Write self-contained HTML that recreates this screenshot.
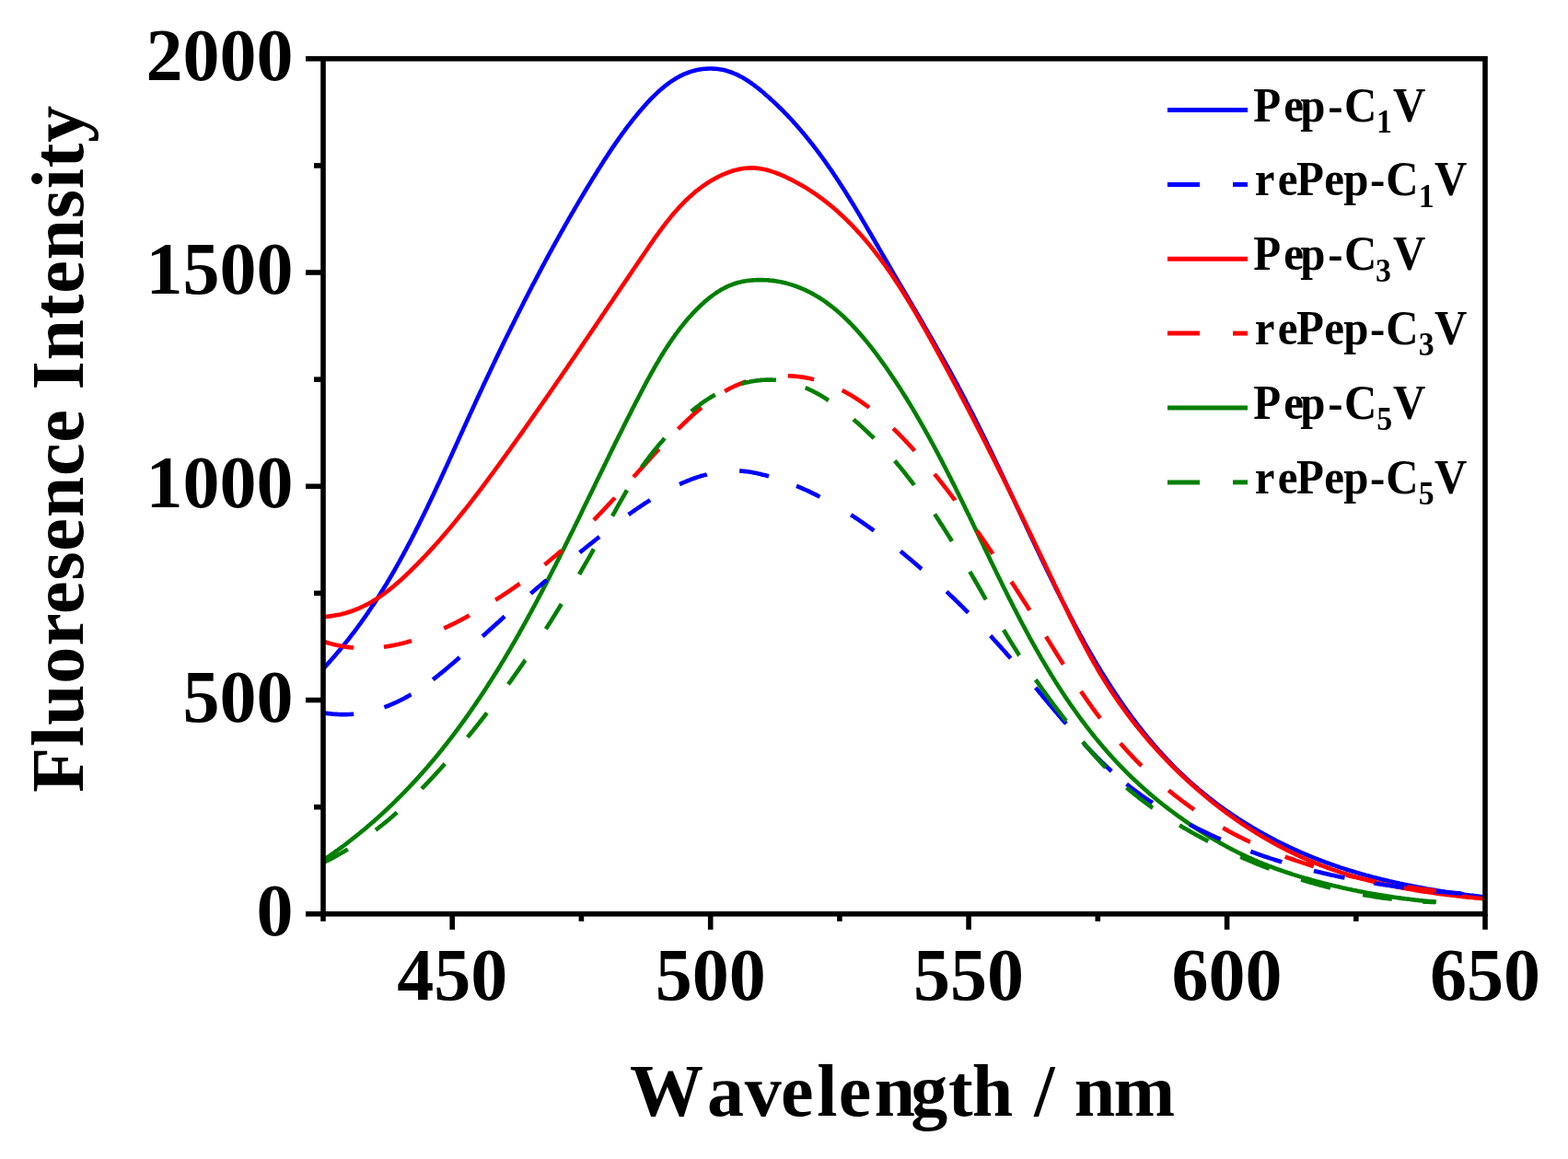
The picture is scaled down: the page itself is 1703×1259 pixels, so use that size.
<!DOCTYPE html>
<html><head><meta charset="utf-8"><title>Fluorescence spectra</title>
<style>
html,body{margin:0;padding:0;background:#fff;}
body{width:1703px;height:1259px;overflow:hidden;}
svg{display:block;}
.t{font-family:"Liberation Serif","Times New Roman",serif;font-weight:bold;font-size:80px;fill:#000;}
.lg{font-family:"Liberation Serif","Times New Roman",serif;font-weight:bold;font-size:49px;fill:#000;}
.sub{font-size:34px;}
.ti{font-family:"Liberation Serif","Times New Roman",serif;font-weight:bold;font-size:80px;fill:#000;}
</style></head>
<body>
<svg width="1703" height="1259" viewBox="0 0 1703 1259">
<rect width="1703" height="1259" fill="#fff"/>
<g>
<polyline points="351.0,726.6 354.7,722.5 355.8,721.2 357.0,719.9 358.2,718.6 359.4,717.3 360.5,715.9 361.7,714.6 362.9,713.3 364.0,712.0 365.2,710.6 366.3,709.3 367.4,708.0 368.6,706.6 369.7,705.3 370.8,703.9 371.9,702.6 373.0,701.2 374.1,699.8 375.2,698.5 376.3,697.1 377.4,695.7 378.5,694.4 379.5,693.0 380.6,691.6 381.7,690.2 382.7,688.9 383.8,687.5 384.9,686.1 385.9,684.7 386.9,683.3 388.0,681.9 389.0,680.5 390.0,679.1 391.1,677.7 392.1,676.3 393.1,674.8 394.1,673.4 395.1,672.0 396.1,670.6 397.1,669.2 398.1,667.7 399.1,666.3 400.1,664.9 401.0,663.4 402.0,662.0 403.0,660.5 403.9,659.1 404.9,657.6 405.9,656.2 406.8,654.7 407.8,653.3 408.7,651.8 409.7,650.4 410.6,648.9 411.5,647.4 412.5,646.0 413.4,644.5 414.3,643.0 415.2,641.6 416.1,640.1 417.0,638.6 418.0,637.1 418.9,635.6 419.8,634.2 420.7,632.7 421.5,631.2 422.4,629.7 423.3,628.2 424.2,626.7 425.1,625.2 426.0,623.7 426.8,622.2 427.7,620.7 428.6,619.2 429.4,617.7 430.3,616.1 431.1,614.6 432.0,613.1 432.8,611.6 433.7,610.1 434.5,608.6 435.4,607.0 436.2,605.5 437.1,604.0 437.9,602.5 438.7,600.9 439.5,599.4 440.4,597.9 441.2,596.3 442.0,594.8 442.8,593.3 443.6,591.7 444.5,590.2 445.3,588.6 446.1,587.1 446.9,585.5 447.7,584.0 448.5,582.4 449.3,580.9 450.1,579.3 450.9,577.8 451.6,576.2 452.4,574.7 453.2,573.1 454.0,571.6 454.8,570.0 455.6,568.4 456.3,566.9 457.1,565.3 457.9,563.7 458.7,562.2 459.4,560.6 460.2,559.0 461.0,557.5 461.7,555.9 462.5,554.3 463.3,552.7 464.0,551.2 464.8,549.6 465.5,548.0 466.3,546.4 467.0,544.9 467.8,543.3 468.5,541.7 469.3,540.1 470.0,538.5 470.8,537.0 471.5,535.4 472.3,533.8 473.0,532.2 473.8,530.6 474.5,529.0 475.2,527.4 476.0,525.9 476.7,524.3 477.5,522.7 478.2,521.1 478.9,519.5 479.7,517.9 480.4,516.3 481.1,514.7 481.9,513.1 482.6,511.5 483.3,509.9 484.0,508.3 484.8,506.7 485.5,505.2 486.2,503.6 487.0,502.0 487.7,500.4 488.4,498.8 489.1,497.2 489.9,495.6 490.6,494.0 491.3,492.4 492.0,490.8 492.7,489.2 493.5,487.6 494.2,486.0 494.9,484.4 495.6,482.8 496.4,481.2 497.1,479.6 497.8,478.0 498.5,476.4 499.3,474.8 500.0,473.2 500.7,471.6 501.4,470.0 502.2,468.4 502.9,466.8 503.6,465.2 504.3,463.6 505.1,462.0 505.8,460.4 506.5,458.8 507.2,457.2 508.0,455.6 508.7,454.0 509.4,452.4 510.1,450.8 510.9,449.2 511.6,447.7 512.3,446.1 513.1,444.5 513.8,442.9 514.5,441.3 515.3,439.7 516.0,438.1 516.7,436.5 517.5,434.9 518.2,433.3 518.9,431.7 519.7,430.1 520.4,428.5 521.1,427.0 521.9,425.4 522.6,423.8 523.4,422.2 524.1,420.6 524.8,419.0 525.6,417.4 526.3,415.8 527.1,414.2 527.8,412.7 528.6,411.1 529.3,409.5 530.1,407.9 530.8,406.3 531.6,404.7 532.3,403.2 533.0,401.6 533.8,400.0 534.6,398.4 535.3,396.8 536.1,395.2 536.8,393.7 537.6,392.1 538.3,390.5 539.1,388.9 539.8,387.3 540.6,385.8 541.3,384.2 542.1,382.6 542.9,381.0 543.6,379.5 544.4,377.9 545.2,376.3 545.9,374.7 546.7,373.2 547.4,371.6 548.2,370.0 549.0,368.4 549.7,366.9 550.5,365.3 551.3,363.7 552.1,362.2 552.8,360.6 553.6,359.0 554.4,357.5 555.1,355.9 555.9,354.3 556.7,352.8 557.5,351.2 558.3,349.6 559.0,348.1 559.8,346.5 560.6,344.9 561.4,343.4 562.2,341.8 562.9,340.3 563.7,338.7 564.5,337.1 565.3,335.6 566.1,334.0 566.9,332.5 567.7,330.9 568.5,329.3 569.2,327.8 570.0,326.2 570.8,324.7 571.6,323.1 572.4,321.6 573.2,320.0 574.0,318.5 574.8,316.9 575.6,315.4 576.4,313.8 577.2,312.3 578.0,310.7 578.8,309.2 579.6,307.6 580.5,306.1 581.3,304.5 582.1,303.0 582.9,301.5 583.7,299.9 584.5,298.4 585.3,296.8 586.1,295.3 587.0,293.8 587.8,292.2 588.6,290.7 589.4,289.1 590.2,287.6 591.1,286.1 591.9,284.5 592.7,283.0 593.5,281.5 594.4,279.9 595.2,278.4 596.0,276.9 596.8,275.3 597.7,273.8 598.5,272.3 599.3,270.8 600.2,269.2 601.0,267.7 601.9,266.2 602.7,264.7 603.5,263.1 604.4,261.6 605.2,260.1 606.1,258.6 606.9,257.1 607.8,255.5 608.6,254.0 609.5,252.5 610.3,251.0 611.2,249.5 612.0,248.0 612.9,246.5 613.7,244.9 614.6,243.4 615.5,241.9 616.3,240.4 617.2,238.9 618.0,237.4 618.9,235.9 619.8,234.4 620.6,232.9 621.5,231.4 622.4,229.9 623.3,228.4 624.1,226.9 625.0,225.4 625.9,223.9 626.8,222.4 627.6,220.9 628.5,219.4 629.4,217.9 630.3,216.4 631.2,214.9 632.1,213.4 633.0,211.9 633.8,210.4 634.7,209.0 635.6,207.5 636.5,206.0 637.4,204.5 638.3,203.0 639.2,201.5 640.1,200.1 641.0,198.6 641.9,197.1 642.8,195.6 643.7,194.1 644.6,192.7 645.6,191.2 646.5,189.7 647.4,188.2 648.3,186.8 649.2,185.3 650.1,183.8 651.1,182.4 652.0,180.9 652.9,179.4 653.8,178.0 654.8,176.5 655.7,175.0 656.6,173.6 657.6,172.1 658.5,170.7 659.5,169.2 660.4,167.7 661.4,166.3 662.3,164.8 663.3,163.4 664.3,161.9 665.2,160.5 666.2,159.1 667.2,157.6 668.2,156.2 669.2,154.7 670.2,153.3 671.2,151.9 672.2,150.4 673.2,149.0 674.2,147.6 675.2,146.1 676.3,144.7 677.3,143.3 678.4,141.9 679.4,140.4 680.5,139.0 681.5,137.6 682.6,136.2 683.7,134.8 684.8,133.4 685.9,132.0 687.0,130.6 688.1,129.2 689.2,127.8 690.4,126.4 691.5,125.0 692.7,123.6 693.8,122.2 695.0,120.8 696.2,119.4 697.4,118.0 698.6,116.6 699.8,115.3 701.0,113.9 702.2,112.6 703.4,111.2 704.7,109.9 705.9,108.5 707.2,107.2 708.5,105.9 709.8,104.6 711.1,103.4 712.4,102.1 713.7,100.9 715.0,99.6 716.4,98.4 717.7,97.2 719.1,96.1 720.5,94.9 721.8,93.8 723.2,92.7 724.6,91.6 726.0,90.6 727.5,89.5 728.9,88.5 730.4,87.6 731.8,86.6 733.3,85.7 734.8,84.8 736.3,84.0 737.8,83.1 739.3,82.3 740.8,81.6 742.3,80.9 743.9,80.2 745.5,79.6 747.0,79.0 748.6,78.4 750.2,77.9 751.8,77.4 753.4,76.9 755.1,76.5 756.7,76.1 758.3,75.8 759.9,75.5 761.6,75.2 763.2,75.0 764.9,74.8 766.5,74.7 768.2,74.6 769.8,74.5 771.5,74.5 773.1,74.5 774.8,74.6 776.4,74.7 778.1,74.8 779.7,75.0 781.4,75.2 783.0,75.5 784.6,75.8 786.3,76.1 787.9,76.5 789.5,77.0 791.1,77.4 792.7,78.0 794.2,78.5 795.8,79.1 797.4,79.8 798.9,80.4 800.5,81.1 802.0,81.9 803.5,82.7 805.1,83.5 806.6,84.3 808.1,85.2 809.6,86.1 811.0,87.0 812.5,88.0 814.0,89.0 815.4,90.0 816.9,91.0 818.3,92.0 819.8,93.1 821.2,94.2 822.6,95.3 824.0,96.4 825.4,97.5 826.8,98.7 828.2,99.8 829.6,101.0 830.9,102.2 832.3,103.4 833.6,104.6 835.0,105.8 836.3,107.0 837.6,108.2 839.0,109.4 840.3,110.6 841.6,111.8 842.9,113.1 844.2,114.3 845.4,115.5 846.7,116.8 848.0,118.0 849.2,119.3 850.5,120.5 851.7,121.8 853.0,123.1 854.2,124.3 855.4,125.6 856.6,126.9 857.9,128.2 859.1,129.5 860.3,130.8 861.4,132.1 862.6,133.4 863.8,134.7 865.0,136.0 866.1,137.3 867.3,138.7 868.4,140.0 869.6,141.3 870.7,142.7 871.9,144.0 873.0,145.3 874.1,146.7 875.2,148.0 876.3,149.4 877.4,150.8 878.5,152.1 879.6,153.5 880.7,154.9 881.8,156.2 882.9,157.6 883.9,159.0 885.0,160.4 886.1,161.8 887.1,163.2 888.2,164.6 889.2,166.0 890.3,167.4 891.3,168.8 892.3,170.2 893.4,171.6 894.4,173.0 895.4,174.4 896.4,175.8 897.4,177.3 898.4,178.7 899.4,180.1 900.4,181.6 901.4,183.0 902.4,184.4 903.4,185.9 904.4,187.3 905.4,188.8 906.3,190.2 907.3,191.7 908.3,193.1 909.2,194.6 910.2,196.0 911.1,197.5 912.1,199.0 913.0,200.4 914.0,201.9 914.9,203.4 915.9,204.8 916.8,206.3 917.8,207.8 918.7,209.3 919.6,210.7 920.5,212.2 921.5,213.7 922.4,215.2 923.3,216.7 924.2,218.2 925.1,219.6 926.0,221.1 927.0,222.6 927.9,224.1 928.8,225.6 929.7,227.1 930.6,228.6 931.5,230.1 932.4,231.6 933.3,233.1 934.2,234.6 935.1,236.1 935.9,237.6 936.8,239.1 937.7,240.6 938.6,242.1 939.5,243.6 940.4,245.2 941.3,246.7 942.1,248.2 943.0,249.7 943.9,251.2 944.8,252.7 945.7,254.2 946.5,255.7 947.4,257.2 948.3,258.8 949.2,260.3 950.1,261.8 950.9,263.3 951.8,264.8 952.7,266.3 953.6,267.8 954.4,269.4 955.3,270.9 956.2,272.4 957.1,273.9 957.9,275.4 958.8,276.9 959.7,278.4 960.6,280.0 961.4,281.5 962.3,283.0 963.2,284.5 964.1,286.0 965.0,287.5 965.8,289.0 966.7,290.5 967.6,292.0 968.5,293.6 969.4,295.1 970.2,296.6 971.1,298.1 972.0,299.6 972.9,301.1 973.8,302.6 974.7,304.1 975.5,305.6 976.4,307.1 977.3,308.6 978.2,310.1 979.1,311.7 980.0,313.2 980.8,314.7 981.7,316.2 982.6,317.7 983.5,319.2 984.4,320.7 985.3,322.2 986.1,323.7 987.0,325.2 987.9,326.7 988.8,328.2 989.7,329.7 990.6,331.2 991.4,332.7 992.3,334.3 993.2,335.8 994.1,337.3 995.0,338.8 995.8,340.3 996.7,341.8 997.6,343.3 998.5,344.8 999.4,346.3 1000.2,347.8 1001.1,349.3 1002.0,350.8 1002.9,352.3 1003.7,353.9 1004.6,355.4 1005.5,356.9 1006.4,358.4 1007.2,359.9 1008.1,361.4 1009.0,362.9 1009.8,364.4 1010.7,365.9 1011.6,367.5 1012.5,369.0 1013.3,370.5 1014.2,372.0 1015.0,373.5 1015.9,375.0 1016.8,376.5 1017.6,378.1 1018.5,379.6 1019.4,381.1 1020.2,382.6 1021.1,384.1 1021.9,385.6 1022.8,387.2 1023.6,388.7 1024.5,390.2 1025.3,391.7 1026.2,393.2 1027.0,394.8 1027.9,396.3 1028.7,397.8 1029.6,399.3 1030.4,400.9 1031.3,402.4 1032.1,403.9 1032.9,405.5 1033.8,407.0 1034.6,408.5 1035.4,410.0 1036.3,411.6 1037.1,413.1 1037.9,414.6 1038.8,416.2 1039.6,417.7 1040.4,419.2 1041.2,420.8 1042.0,422.3 1042.9,423.9 1043.7,425.4 1044.5,426.9 1045.3,428.5 1046.1,430.0 1046.9,431.6 1047.7,433.1 1048.5,434.7 1049.3,436.2 1050.1,437.8 1050.9,439.3 1051.7,440.9 1052.5,442.4 1053.3,444.0 1054.1,445.5 1054.9,447.1 1055.7,448.6 1056.5,450.2 1057.3,451.7 1058.1,453.3 1058.8,454.8 1059.6,456.4 1060.4,458.0 1061.2,459.5 1062.0,461.1 1062.7,462.6 1063.5,464.2 1064.3,465.8 1065.1,467.3 1065.8,468.9 1066.6,470.5 1067.4,472.0 1068.1,473.6 1068.9,475.2 1069.7,476.7 1070.4,478.3 1071.2,479.9 1072.0,481.4 1072.7,483.0 1073.5,484.6 1074.2,486.1 1075.0,487.7 1075.8,489.3 1076.5,490.9 1077.3,492.4 1078.0,494.0 1078.8,495.6 1079.5,497.2 1080.3,498.7 1081.0,500.3 1081.8,501.9 1082.5,503.5 1083.3,505.0 1084.0,506.6 1084.8,508.2 1085.5,509.8 1086.3,511.3 1087.0,512.9 1087.8,514.5 1088.5,516.1 1089.2,517.7 1090.0,519.2 1090.7,520.8 1091.5,522.4 1092.2,524.0 1093.0,525.6 1093.7,527.1 1094.4,528.7 1095.2,530.3 1095.9,531.9 1096.7,533.5 1097.4,535.0 1098.1,536.6 1098.9,538.2 1099.6,539.8 1100.4,541.4 1101.1,542.9 1101.8,544.5 1102.6,546.1 1103.3,547.7 1104.0,549.3 1104.8,550.9 1105.5,552.4 1106.3,554.0 1107.0,555.6 1107.7,557.2 1108.5,558.8 1109.2,560.3 1110.0,561.9 1110.7,563.5 1111.4,565.1 1112.2,566.7 1112.9,568.2 1113.7,569.8 1114.4,571.4 1115.1,573.0 1115.9,574.6 1116.6,576.1 1117.4,577.7 1118.1,579.3 1118.8,580.9 1119.6,582.5 1120.3,584.0 1121.1,585.6 1121.8,587.2 1122.6,588.8 1123.3,590.4 1124.1,591.9 1124.8,593.5 1125.6,595.1 1126.3,596.7 1127.1,598.2 1127.8,599.8 1128.6,601.4 1129.3,603.0 1130.1,604.5 1130.8,606.1 1131.6,607.7 1132.3,609.2 1133.1,610.8 1133.8,612.4 1134.6,614.0 1135.3,615.5 1136.1,617.1 1136.9,618.7 1137.6,620.2 1138.4,621.8 1139.1,623.4 1139.9,624.9 1140.7,626.5 1141.4,628.1 1142.2,629.6 1143.0,631.2 1143.8,632.8 1144.5,634.3 1145.3,635.9 1146.1,637.4 1146.8,639.0 1147.6,640.6 1148.4,642.1 1149.2,643.7 1150.0,645.2 1150.7,646.8 1151.5,648.4 1152.3,649.9 1153.1,651.5 1153.9,653.0 1154.7,654.6 1155.5,656.1 1156.3,657.7 1157.1,659.2 1157.9,660.8 1158.7,662.3 1159.5,663.9 1160.3,665.4 1161.1,667.0 1161.9,668.5 1162.7,670.0 1163.5,671.6 1164.3,673.1 1165.1,674.7 1165.9,676.2 1166.7,677.7 1167.6,679.3 1168.4,680.8 1169.2,682.3 1170.0,683.9 1170.9,685.4 1171.7,686.9 1172.5,688.5 1173.3,690.0 1174.2,691.5 1175.0,693.0 1175.9,694.5 1176.7,696.1 1177.5,697.6 1178.4,699.1 1179.2,700.6 1180.1,702.1 1180.9,703.6 1181.8,705.1 1182.7,706.6 1183.5,708.1 1184.4,709.6 1185.3,711.1 1186.1,712.6 1187.0,714.1 1187.9,715.6 1188.7,717.1 1189.6,718.6 1190.5,720.1 1191.4,721.6 1192.3,723.1 1193.2,724.6 1194.1,726.0 1194.9,727.5 1195.8,729.0 1196.7,730.5 1197.6,731.9 1198.6,733.4 1199.5,734.9 1200.4,736.3 1201.3,737.8 1202.2,739.2 1203.1,740.7 1204.1,742.2 1205.0,743.6 1205.9,745.0 1206.8,746.5 1207.8,747.9 1208.7,749.4 1209.7,750.8 1210.6,752.2 1211.6,753.7 1212.5,755.1 1213.5,756.5 1214.4,757.9 1215.4,759.4 1216.4,760.8 1217.3,762.2 1218.3,763.6 1219.3,765.0 1220.3,766.4 1221.2,767.8 1222.2,769.2 1223.2,770.6 1224.2,772.0 1225.2,773.4 1226.2,774.8 1227.2,776.1 1228.2,777.5 1229.2,778.9 1230.3,780.3 1231.3,781.6 1232.3,783.0 1233.3,784.3 1234.4,785.7 1235.4,787.1 1236.4,788.4 1237.5,789.7 1238.5,791.1 1239.6,792.4 1240.6,793.8 1241.7,795.1 1242.7,796.4 1243.8,797.7 1244.9,799.1 1246.0,800.4 1247.0,801.7 1248.1,803.0 1249.2,804.3 1250.3,805.6 1251.4,806.9 1252.5,808.2 1253.6,809.5 1254.7,810.7 1255.8,812.0 1256.9,813.3 1258.0,814.6 1259.2,815.8 1260.3,817.1 1261.4,818.3 1262.6,819.6 1263.7,820.8 1264.9,822.1 1266.0,823.3 1267.2,824.6 1268.3,825.8 1269.5,827.0 1270.7,828.2 1271.9,829.4 1273.0,830.7 1274.2,831.9 1275.4,833.1 1276.6,834.3 1277.8,835.5 1279.0,836.6 1280.2,837.8 1281.4,839.0 1282.7,840.2 1283.9,841.3 1285.1,842.5 1286.3,843.7 1287.6,844.8 1288.8,846.0 1290.1,847.1 1291.3,848.2 1292.6,849.4 1293.9,850.5 1295.1,851.6 1296.4,852.7 1297.7,853.9 1299.0,855.0 1300.2,856.1 1301.5,857.2 1302.8,858.3 1304.1,859.3 1305.4,860.4 1306.8,861.5 1308.1,862.6 1309.4,863.6 1310.7,864.7 1312.0,865.8 1313.4,866.8 1314.7,867.8 1316.1,868.9 1317.4,869.9 1318.8,871.0 1320.1,872.0 1321.5,873.0 1322.8,874.0 1324.2,875.0 1325.6,876.0 1327.0,877.0 1328.3,878.0 1329.7,879.0 1331.1,880.0 1332.5,881.0 1333.9,882.0 1335.3,882.9 1336.7,883.9 1338.1,884.8 1339.5,885.8 1341.0,886.7 1342.4,887.7 1343.8,888.6 1345.2,889.6 1346.7,890.5 1348.1,891.4 1349.5,892.3 1351.0,893.2 1352.4,894.1 1353.9,895.0 1355.3,895.9 1356.8,896.8 1358.3,897.7 1359.7,898.6 1361.2,899.5 1362.7,900.3 1364.2,901.2 1365.6,902.0 1367.1,902.9 1368.6,903.7 1370.1,904.6 1371.6,905.4 1373.1,906.3 1374.6,907.1 1376.1,907.9 1377.6,908.7 1379.1,909.5 1380.6,910.3 1382.1,911.1 1383.7,911.9 1385.2,912.7 1386.7,913.5 1388.2,914.3 1389.8,915.1 1391.3,915.8 1392.9,916.6 1394.4,917.3 1395.9,918.1 1397.5,918.8 1399.0,919.6 1400.6,920.3 1402.2,921.0 1403.7,921.8 1405.3,922.5 1406.8,923.2 1408.4,923.9 1410.0,924.6 1411.6,925.3 1413.1,926.0 1414.7,926.7 1416.3,927.4 1417.9,928.0 1419.5,928.7 1421.1,929.4 1422.6,930.0 1424.2,930.7 1425.8,931.3 1427.4,932.0 1429.0,932.6 1430.6,933.2 1432.3,933.9 1433.9,934.5 1435.5,935.1 1437.1,935.7 1438.7,936.3 1440.3,936.9 1441.9,937.5 1443.6,938.1 1445.2,938.7 1446.8,939.3 1448.4,939.8 1450.1,940.4 1451.7,941.0 1453.3,941.5 1455.0,942.1 1456.6,942.6 1458.3,943.1 1459.9,943.7 1461.6,944.2 1463.2,944.7 1464.8,945.2 1466.5,945.8 1468.2,946.3 1469.8,946.8 1471.5,947.3 1473.1,947.8 1474.8,948.2 1476.4,948.7 1478.1,949.2 1479.8,949.7 1481.4,950.1 1483.1,950.6 1484.8,951.1 1486.5,951.5 1488.1,952.0 1489.8,952.4 1491.5,952.9 1493.2,953.3 1494.8,953.7 1496.5,954.1 1498.2,954.6 1499.9,955.0 1501.6,955.4 1503.3,955.8 1505.0,956.2 1506.6,956.6 1508.3,957.0 1510.0,957.4 1511.7,957.8 1513.4,958.2 1515.1,958.6 1516.8,958.9 1518.5,959.3 1520.2,959.7 1521.9,960.0 1523.6,960.4 1525.3,960.8 1527.0,961.1 1528.7,961.5 1530.5,961.8 1532.2,962.1 1533.9,962.5 1535.6,962.8 1537.3,963.1 1539.0,963.5 1540.7,963.8 1542.4,964.1 1544.2,964.4 1545.9,964.7 1547.6,965.0 1549.3,965.4 1551.0,965.7 1552.8,966.0 1554.5,966.3 1556.2,966.5 1557.9,966.8 1559.7,967.1 1561.4,967.4 1563.1,967.7 1564.8,968.0 1566.6,968.2 1568.3,968.5 1570.0,968.8 1571.8,969.0 1573.5,969.3 1575.2,969.6 1577.0,969.8 1578.7,970.1 1580.4,970.3 1582.2,970.6 1583.9,970.8 1585.6,971.1 1587.4,971.3 1589.1,971.5 1590.8,971.8 1592.6,972.0 1594.3,972.2 1596.1,972.5 1597.8,972.7 1599.5,972.9 1601.3,973.1 1603.0,973.4 1604.8,973.6 1606.5,973.8 1608.2,974.0 1610.0,974.2 1611.7,974.4 1613.1,974.6" fill="none" stroke="#0000ff" stroke-width="4.6" stroke-linejoin="round"/>
<polyline points="351.0,670.2 353.2,669.9 354.9,669.7 356.6,669.6 358.3,669.4 360.0,669.1 361.7,668.9 363.4,668.6 365.0,668.3 366.6,668.0 368.2,667.7 369.8,667.4 371.4,667.0 373.0,666.6 374.6,666.2 376.1,665.7 377.7,665.3 379.2,664.8 380.7,664.3 382.2,663.8 383.7,663.2 385.2,662.7 386.6,662.1 388.1,661.5 389.6,660.9 391.0,660.3 392.4,659.6 393.8,659.0 395.2,658.3 396.6,657.6 398.0,656.9 399.4,656.2 400.8,655.4 402.1,654.7 403.5,653.9 404.8,653.1 406.1,652.3 407.4,651.5 408.8,650.7 410.1,649.8 411.3,649.0 412.6,648.1 413.9,647.2 415.2,646.4 416.4,645.5 417.7,644.5 418.9,643.6 420.2,642.7 421.4,641.7 422.6,640.8 423.9,639.8 425.1,638.8 426.3,637.8 427.5,636.9 428.7,635.8 429.9,634.8 431.1,633.8 432.2,632.8 433.4,631.8 434.6,630.7 435.7,629.7 436.9,628.6 438.1,627.5 439.2,626.5 440.4,625.4 441.5,624.3 442.6,623.2 443.8,622.1 444.9,621.1 446.0,620.0 447.1,618.9 448.3,617.7 449.4,616.6 450.5,615.5 451.6,614.4 452.7,613.3 453.8,612.2 454.9,611.0 456.0,609.9 457.1,608.8 458.2,607.6 459.3,606.5 460.4,605.4 461.5,604.2 462.6,603.1 463.6,601.9 464.7,600.8 465.8,599.6 466.9,598.4 467.9,597.3 469.0,596.1 470.1,595.0 471.1,593.8 472.2,592.6 473.2,591.4 474.3,590.3 475.3,589.1 476.4,587.9 477.4,586.7 478.5,585.5 479.5,584.3 480.5,583.1 481.6,581.9 482.6,580.7 483.6,579.5 484.7,578.3 485.7,577.1 486.7,575.9 487.7,574.7 488.8,573.5 489.8,572.3 490.8,571.0 491.8,569.8 492.8,568.6 493.8,567.4 494.8,566.2 495.8,564.9 496.8,563.7 497.8,562.5 498.8,561.2 499.8,560.0 500.8,558.8 501.8,557.5 502.8,556.3 503.8,555.0 504.8,553.8 505.8,552.6 506.8,551.3 507.7,550.1 508.7,548.8 509.7,547.6 510.7,546.3 511.6,545.1 512.6,543.8 513.6,542.5 514.6,541.3 515.5,540.0 516.5,538.8 517.5,537.5 518.4,536.2 519.4,535.0 520.3,533.7 521.3,532.5 522.3,531.2 523.2,529.9 524.2,528.7 525.1,527.4 526.1,526.1 527.0,524.8 528.0,523.6 528.9,522.3 529.9,521.0 530.8,519.8 531.7,518.5 532.7,517.2 533.6,515.9 534.6,514.7 535.5,513.4 536.5,512.1 537.4,510.8 538.3,509.5 539.3,508.3 540.2,507.0 541.1,505.7 542.1,504.4 543.0,503.2 543.9,501.9 544.8,500.6 545.8,499.3 546.7,498.0 547.6,496.8 548.6,495.5 549.5,494.2 550.4,492.9 551.3,491.6 552.2,490.4 553.2,489.1 554.1,487.8 555.0,486.5 555.9,485.2 556.8,484.0 557.8,482.7 558.7,481.4 559.6,480.1 560.5,478.8 561.4,477.5 562.3,476.3 563.2,475.0 564.2,473.7 565.1,472.4 566.0,471.1 566.9,469.9 567.8,468.6 568.7,467.3 569.6,466.0 570.5,464.7 571.4,463.4 572.3,462.2 573.2,460.9 574.1,459.6 575.0,458.3 575.9,457.0 576.8,455.7 577.7,454.4 578.6,453.2 579.5,451.9 580.4,450.6 581.3,449.3 582.2,448.0 583.1,446.7 584.0,445.4 584.9,444.2 585.8,442.9 586.7,441.6 587.6,440.3 588.5,439.0 589.4,437.7 590.3,436.4 591.2,435.2 592.1,433.9 593.0,432.6 593.9,431.3 594.8,430.0 595.7,428.7 596.6,427.4 597.4,426.1 598.3,424.8 599.2,423.6 600.1,422.3 601.0,421.0 601.9,419.7 602.8,418.4 603.7,417.1 604.5,415.8 605.4,414.5 606.3,413.2 607.2,411.9 608.1,410.7 609.0,409.4 609.9,408.1 610.7,406.8 611.6,405.5 612.5,404.2 613.4,402.9 614.3,401.6 615.2,400.3 616.1,399.0 616.9,397.7 617.8,396.4 618.7,395.1 619.6,393.8 620.5,392.5 621.3,391.3 622.2,390.0 623.1,388.7 624.0,387.4 624.9,386.1 625.8,384.8 626.6,383.5 627.5,382.2 628.4,380.9 629.3,379.6 630.2,378.3 631.0,377.0 631.9,375.7 632.8,374.4 633.7,373.1 634.6,371.8 635.4,370.5 636.3,369.2 637.2,367.9 638.1,366.6 639.0,365.3 639.8,364.0 640.7,362.7 641.6,361.4 642.5,360.1 643.4,358.8 644.2,357.5 645.1,356.2 646.0,354.9 646.9,353.6 647.8,352.3 648.6,351.0 649.5,349.7 650.4,348.4 651.3,347.1 652.2,345.8 653.0,344.5 653.9,343.1 654.8,341.8 655.7,340.5 656.6,339.2 657.4,337.9 658.3,336.6 659.2,335.3 660.1,334.0 661.0,332.7 661.8,331.4 662.7,330.1 663.6,328.8 664.5,327.5 665.4,326.2 666.3,324.8 667.1,323.5 668.0,322.2 668.9,320.9 669.8,319.6 670.7,318.3 671.6,317.0 672.4,315.7 673.3,314.4 674.2,313.0 675.1,311.7 676.0,310.4 676.9,309.1 677.8,307.8 678.6,306.5 679.5,305.2 680.4,303.9 681.3,302.5 682.2,301.2 683.1,299.9 684.0,298.6 684.9,297.3 685.8,296.0 686.6,294.6 687.5,293.3 688.4,292.0 689.3,290.7 690.2,289.4 691.1,288.0 692.0,286.7 692.9,285.4 693.8,284.1 694.7,282.8 695.6,281.4 696.5,280.1 697.4,278.8 698.3,277.5 699.2,276.2 700.1,274.8 701.0,273.5 701.9,272.2 702.8,270.9 703.7,269.6 704.6,268.2 705.5,266.9 706.4,265.6 707.3,264.3 708.2,263.0 709.1,261.7 710.0,260.3 710.9,259.0 711.9,257.7 712.8,256.4 713.7,255.1 714.7,253.8 715.6,252.5 716.5,251.2 717.5,250.0 718.4,248.7 719.4,247.4 720.3,246.1 721.3,244.9 722.3,243.6 723.2,242.3 724.2,241.1 725.2,239.9 726.2,238.6 727.2,237.4 728.2,236.1 729.2,234.9 730.2,233.7 731.2,232.5 732.2,231.3 733.3,230.1 734.3,228.9 735.4,227.8 736.4,226.6 737.5,225.4 738.5,224.3 739.6,223.1 740.7,222.0 741.8,220.9 742.9,219.7 744.0,218.6 745.1,217.5 746.3,216.5 747.4,215.4 748.5,214.3 749.7,213.3 750.9,212.2 752.0,211.2 753.2,210.2 754.4,209.1 755.6,208.1 756.8,207.2 758.1,206.2 759.3,205.2 760.6,204.3 761.8,203.3 763.1,202.4 764.4,201.5 765.7,200.6 767.0,199.7 768.3,198.8 769.6,198.0 771.0,197.1 772.3,196.3 773.7,195.5 775.1,194.7 776.5,193.9 777.9,193.2 779.3,192.4 780.7,191.7 782.1,191.0 783.6,190.3 785.0,189.7 786.5,189.1 787.9,188.5 789.4,187.9 790.9,187.3 792.4,186.8 793.8,186.3 795.3,185.8 796.8,185.3 798.3,184.9 799.8,184.5 801.4,184.2 802.9,183.8 804.4,183.5 805.9,183.3 807.4,183.0 809.0,182.8 810.5,182.7 812.0,182.6 813.5,182.5 815.1,182.4 816.6,182.4 818.1,182.4 819.7,182.5 821.2,182.6 822.7,182.8 824.2,182.9 825.7,183.2 827.3,183.4 828.8,183.7 830.3,184.0 831.8,184.4 833.3,184.8 834.8,185.2 836.3,185.6 837.8,186.1 839.3,186.6 840.8,187.1 842.3,187.6 843.7,188.2 845.2,188.7 846.7,189.3 848.1,189.9 849.6,190.6 851.0,191.2 852.5,191.9 853.9,192.5 855.3,193.2 856.7,193.9 858.2,194.6 859.6,195.3 861.0,196.0 862.3,196.7 863.7,197.4 865.1,198.2 866.5,198.9 867.8,199.7 869.2,200.5 870.5,201.2 871.9,202.0 873.2,202.8 874.6,203.6 875.9,204.4 877.2,205.2 878.5,206.1 879.8,206.9 881.1,207.8 882.4,208.6 883.7,209.5 885.0,210.3 886.2,211.2 887.5,212.1 888.7,213.0 890.0,213.9 891.2,214.8 892.5,215.7 893.7,216.6 894.9,217.6 896.2,218.5 897.4,219.5 898.6,220.4 899.8,221.4 901.0,222.3 902.2,223.3 903.4,224.3 904.6,225.3 905.7,226.3 906.9,227.3 908.1,228.3 909.2,229.3 910.4,230.4 911.5,231.4 912.7,232.4 913.8,233.5 914.9,234.5 916.1,235.6 917.2,236.7 918.3,237.7 919.4,238.8 920.5,239.9 921.6,241.0 922.7,242.1 923.8,243.2 924.9,244.3 926.0,245.4 927.0,246.5 928.1,247.6 929.2,248.8 930.2,249.9 931.3,251.1 932.3,252.2 933.4,253.4 934.4,254.5 935.5,255.7 936.5,256.9 937.5,258.0 938.5,259.2 939.6,260.4 940.6,261.6 941.6,262.8 942.6,264.0 943.6,265.2 944.6,266.4 945.6,267.6 946.6,268.9 947.5,270.1 948.5,271.3 949.5,272.6 950.5,273.8 951.4,275.0 952.4,276.3 953.3,277.5 954.3,278.8 955.3,280.1 956.2,281.3 957.1,282.6 958.1,283.9 959.0,285.2 959.9,286.4 960.9,287.7 961.8,289.0 962.7,290.3 963.6,291.6 964.5,292.9 965.5,294.2 966.4,295.5 967.3,296.8 968.2,298.1 969.1,299.5 970.0,300.8 970.8,302.1 971.7,303.4 972.6,304.8 973.5,306.1 974.4,307.4 975.3,308.8 976.1,310.1 977.0,311.4 977.9,312.8 978.7,314.1 979.6,315.5 980.4,316.8 981.3,318.2 982.1,319.6 983.0,320.9 983.8,322.3 984.7,323.6 985.5,325.0 986.4,326.4 987.2,327.8 988.0,329.1 988.9,330.5 989.7,331.9 990.5,333.3 991.3,334.6 992.2,336.0 993.0,337.4 993.8,338.8 994.6,340.2 995.4,341.6 996.2,342.9 997.0,344.3 997.8,345.7 998.6,347.1 999.4,348.5 1000.2,349.9 1001.0,351.3 1001.8,352.7 1002.6,354.1 1003.4,355.5 1004.2,356.9 1005.0,358.3 1005.8,359.7 1006.6,361.1 1007.4,362.5 1008.1,363.9 1008.9,365.3 1009.7,366.7 1010.5,368.1 1011.3,369.5 1012.0,370.9 1012.8,372.3 1013.6,373.7 1014.4,375.1 1015.1,376.5 1015.9,377.9 1016.7,379.3 1017.4,380.7 1018.2,382.1 1019.0,383.5 1019.7,384.9 1020.5,386.3 1021.3,387.7 1022.0,389.1 1022.8,390.5 1023.5,391.9 1024.3,393.3 1025.0,394.7 1025.8,396.1 1026.6,397.5 1027.3,398.9 1028.1,400.3 1028.8,401.6 1029.6,403.0 1030.3,404.4 1031.1,405.8 1031.8,407.2 1032.6,408.6 1033.3,410.0 1034.0,411.4 1034.8,412.8 1035.5,414.2 1036.3,415.6 1037.0,417.0 1037.8,418.4 1038.5,419.8 1039.2,421.2 1040.0,422.5 1040.7,423.9 1041.4,425.3 1042.2,426.7 1042.9,428.1 1043.6,429.5 1044.4,430.9 1045.1,432.3 1045.8,433.7 1046.6,435.1 1047.3,436.5 1048.0,437.8 1048.8,439.2 1049.5,440.6 1050.2,442.0 1050.9,443.4 1051.7,444.8 1052.4,446.2 1053.1,447.6 1053.8,449.0 1054.5,450.4 1055.3,451.7 1056.0,453.1 1056.7,454.5 1057.4,455.9 1058.1,457.3 1058.8,458.7 1059.6,460.1 1060.3,461.5 1061.0,462.9 1061.7,464.3 1062.4,465.6 1063.1,467.0 1063.8,468.4 1064.6,469.8 1065.3,471.2 1066.0,472.6 1066.7,474.0 1067.4,475.4 1068.1,476.8 1068.8,478.2 1069.5,479.5 1070.2,480.9 1070.9,482.3 1071.6,483.7 1072.3,485.1 1073.0,486.5 1073.7,487.9 1074.4,489.3 1075.1,490.7 1075.8,492.1 1076.5,493.4 1077.2,494.8 1077.9,496.2 1078.6,497.6 1079.3,499.0 1080.0,500.4 1080.7,501.8 1081.4,503.2 1082.1,504.6 1082.8,506.0 1083.5,507.4 1084.2,508.8 1084.9,510.2 1085.6,511.5 1086.3,512.9 1087.0,514.3 1087.7,515.7 1088.4,517.1 1089.1,518.5 1089.8,519.9 1090.4,521.3 1091.1,522.7 1091.8,524.1 1092.5,525.5 1093.2,526.9 1093.9,528.3 1094.6,529.7 1095.3,531.1 1096.0,532.5 1096.7,533.9 1097.3,535.3 1098.0,536.7 1098.7,538.1 1099.4,539.5 1100.1,540.9 1100.8,542.3 1101.5,543.7 1102.1,545.1 1102.8,546.5 1103.5,547.9 1104.2,549.3 1104.9,550.7 1105.6,552.1 1106.2,553.5 1106.9,554.9 1107.6,556.3 1108.3,557.7 1109.0,559.1 1109.7,560.5 1110.3,561.9 1111.0,563.3 1111.7,564.7 1112.4,566.1 1113.1,567.5 1113.8,568.9 1114.4,570.3 1115.1,571.7 1115.8,573.2 1116.5,574.6 1117.2,576.0 1117.8,577.4 1118.5,578.8 1119.2,580.2 1119.9,581.6 1120.6,583.0 1121.2,584.4 1121.9,585.8 1122.6,587.3 1123.3,588.7 1124.0,590.1 1124.6,591.5 1125.3,592.9 1126.0,594.3 1126.7,595.8 1127.4,597.2 1128.0,598.6 1128.7,600.0 1129.4,601.4 1130.1,602.8 1130.8,604.3 1131.4,605.7 1132.1,607.1 1132.8,608.5 1133.5,609.9 1134.2,611.4 1134.8,612.8 1135.5,614.2 1136.2,615.6 1136.9,617.1 1137.5,618.5 1138.2,619.9 1138.9,621.4 1139.6,622.8 1140.3,624.2 1140.9,625.6 1141.6,627.1 1142.3,628.5 1143.0,629.9 1143.7,631.4 1144.4,632.8 1145.0,634.2 1145.7,635.7 1146.4,637.1 1147.1,638.5 1147.8,640.0 1148.4,641.4 1149.1,642.8 1149.8,644.3 1150.5,645.7 1151.2,647.2 1151.9,648.6 1152.5,650.0 1153.2,651.5 1153.9,652.9 1154.6,654.4 1155.3,655.8 1156.0,657.2 1156.7,658.7 1157.4,660.1 1158.1,661.6 1158.7,663.0 1159.4,664.4 1160.1,665.9 1160.8,667.3 1161.5,668.7 1162.2,670.2 1162.9,671.6 1163.6,673.0 1164.3,674.5 1165.0,675.9 1165.7,677.3 1166.4,678.8 1167.1,680.2 1167.9,681.6 1168.6,683.0 1169.3,684.5 1170.0,685.9 1170.7,687.3 1171.4,688.7 1172.2,690.2 1172.9,691.6 1173.6,693.0 1174.3,694.4 1175.1,695.8 1175.8,697.2 1176.5,698.6 1177.3,700.0 1178.0,701.4 1178.7,702.8 1179.5,704.2 1180.2,705.6 1181.0,707.0 1181.7,708.4 1182.5,709.8 1183.2,711.2 1184.0,712.6 1184.8,714.0 1185.5,715.4 1186.3,716.7 1187.1,718.1 1187.8,719.5 1188.6,720.8 1189.4,722.2 1190.2,723.6 1191.0,724.9 1191.8,726.3 1192.5,727.6 1193.3,729.0 1194.1,730.3 1194.9,731.7 1195.7,733.0 1196.6,734.3 1197.4,735.7 1198.2,737.0 1199.0,738.3 1199.8,739.6 1200.7,741.0 1201.5,742.3 1202.3,743.6 1203.1,744.9 1204.0,746.2 1204.8,747.5 1205.7,748.8 1206.5,750.1 1207.4,751.4 1208.2,752.7 1209.1,754.0 1209.9,755.2 1210.8,756.5 1211.7,757.8 1212.6,759.1 1213.4,760.3 1214.3,761.6 1215.2,762.9 1216.1,764.1 1217.0,765.4 1217.9,766.6 1218.8,767.9 1219.6,769.1 1220.6,770.4 1221.5,771.6 1222.4,772.9 1223.3,774.1 1224.2,775.3 1225.1,776.6 1226.0,777.8 1227.0,779.0 1227.9,780.2 1228.8,781.4 1229.7,782.7 1230.7,783.9 1231.6,785.1 1232.6,786.3 1233.5,787.5 1234.5,788.7 1235.4,789.9 1236.4,791.1 1237.3,792.2 1238.3,793.4 1239.3,794.6 1240.3,795.8 1241.2,797.0 1242.2,798.1 1243.2,799.3 1244.2,800.5 1245.2,801.6 1246.1,802.8 1247.1,804.0 1248.1,805.1 1249.1,806.3 1250.1,807.4 1251.2,808.6 1252.2,809.7 1253.2,810.9 1254.2,812.0 1255.2,813.1 1256.2,814.3 1257.3,815.4 1258.3,816.5 1259.3,817.6 1260.4,818.7 1261.4,819.9 1262.5,821.0 1263.5,822.1 1264.6,823.2 1265.6,824.3 1266.7,825.4 1267.7,826.5 1268.8,827.6 1269.9,828.7 1270.9,829.8 1272.0,830.9 1273.1,832.0 1274.2,833.0 1275.3,834.1 1276.3,835.2 1277.4,836.3 1278.5,837.3 1279.6,838.4 1280.7,839.5 1281.8,840.5 1282.9,841.6 1284.1,842.7 1285.2,843.7 1286.3,844.8 1287.4,845.8 1288.5,846.8 1289.7,847.9 1290.8,848.9 1291.9,850.0 1293.1,851.0 1294.2,852.0 1295.3,853.0 1296.5,854.1 1297.6,855.1 1298.8,856.1 1299.9,857.1 1301.1,858.1 1302.3,859.1 1303.4,860.1 1304.6,861.1 1305.8,862.1 1306.9,863.1 1308.1,864.1 1309.3,865.1 1310.5,866.1 1311.7,867.0 1312.9,868.0 1314.1,869.0 1315.3,870.0 1316.5,870.9 1317.7,871.9 1318.9,872.8 1320.1,873.8 1321.3,874.7 1322.5,875.7 1323.7,876.6 1324.9,877.6 1326.2,878.5 1327.4,879.4 1328.6,880.4 1329.9,881.3 1331.1,882.2 1332.3,883.1 1333.6,884.0 1334.8,884.9 1336.1,885.8 1337.3,886.7 1338.6,887.6 1339.8,888.5 1341.1,889.4 1342.4,890.3 1343.6,891.2 1344.9,892.1 1346.2,892.9 1347.4,893.8 1348.7,894.7 1350.0,895.5 1351.3,896.4 1352.6,897.2 1353.9,898.1 1355.2,898.9 1356.5,899.8 1357.8,900.6 1359.1,901.4 1360.4,902.3 1361.7,903.1 1363.0,903.9 1364.3,904.7 1365.6,905.5 1366.9,906.3 1368.2,907.1 1369.6,907.9 1370.9,908.7 1372.2,909.5 1373.6,910.3 1374.9,911.1 1376.2,911.8 1377.6,912.6 1378.9,913.4 1380.3,914.1 1381.6,914.9 1383.0,915.6 1384.3,916.4 1385.7,917.1 1387.0,917.9 1388.4,918.6 1389.8,919.3 1391.1,920.1 1392.5,920.8 1393.9,921.5 1395.3,922.2 1396.6,922.9 1398.0,923.6 1399.4,924.3 1400.8,925.0 1402.2,925.7 1403.6,926.3 1405.0,927.0 1406.4,927.7 1407.8,928.4 1409.2,929.0 1410.6,929.7 1412.0,930.3 1413.4,931.0 1414.8,931.6 1416.2,932.2 1417.7,932.9 1419.1,933.5 1420.5,934.1 1421.9,934.7 1423.4,935.3 1424.8,935.9 1426.2,936.5 1427.7,937.1 1429.1,937.7 1430.6,938.3 1432.0,938.9 1433.4,939.5 1434.9,940.0 1436.3,940.6 1437.8,941.1 1439.3,941.7 1440.7,942.2 1442.2,942.8 1443.7,943.3 1445.1,943.8 1446.6,944.4 1448.1,944.9 1449.5,945.4 1451.0,945.9 1452.5,946.4 1454.0,946.9 1455.5,947.4 1456.9,947.9 1458.4,948.4 1459.9,948.8 1461.4,949.3 1462.9,949.8 1464.4,950.2 1465.9,950.7 1467.4,951.1 1468.9,951.6 1470.4,952.0 1471.9,952.5 1473.4,952.9 1475.0,953.3 1476.5,953.7 1478.0,954.2 1479.5,954.6 1481.0,955.0 1482.5,955.4 1484.1,955.8 1485.6,956.2 1487.1,956.6 1488.6,957.0 1490.2,957.3 1491.7,957.7 1493.2,958.1 1494.8,958.4 1496.3,958.8 1497.8,959.2 1499.4,959.5 1500.9,959.9 1502.5,960.2 1504.0,960.6 1505.5,960.9 1507.1,961.2 1508.6,961.6 1510.2,961.9 1511.7,962.2 1513.3,962.5 1514.8,962.8 1516.4,963.2 1517.9,963.5 1519.5,963.8 1521.0,964.1 1522.6,964.4 1524.1,964.6 1525.7,964.9 1527.3,965.2 1528.8,965.5 1530.4,965.8 1531.9,966.1 1533.5,966.3 1535.1,966.6 1536.6,966.9 1538.2,967.1 1539.7,967.4 1541.3,967.6 1542.9,967.9 1544.4,968.1 1546.0,968.4 1547.6,968.6 1549.1,968.8 1550.7,969.1 1552.3,969.3 1553.8,969.5 1555.4,969.8 1557.0,970.0 1558.5,970.2 1560.1,970.4 1561.7,970.6 1563.2,970.9 1564.8,971.1 1566.4,971.3 1567.9,971.5 1569.5,971.7 1571.1,971.9 1572.6,972.1 1574.2,972.3 1575.8,972.5 1577.3,972.6 1578.9,972.8 1580.5,973.0 1582.1,973.2 1583.6,973.4 1585.2,973.5 1586.8,973.7 1588.3,973.9 1589.9,974.1 1591.4,974.2 1593.0,974.4 1594.6,974.6 1596.1,974.7 1597.7,974.9 1599.3,975.0 1600.8,975.2 1602.4,975.4 1603.9,975.5 1605.5,975.7 1607.1,975.8 1608.6,976.0 1610.2,976.1 1611.7,976.2 1613.0,976.4" fill="none" stroke="#ff0000" stroke-width="4.6" stroke-linejoin="round"/>
<polyline points="351.0,934.5 353.3,932.9 354.7,932.0 356.0,931.0 357.4,930.1 358.7,929.2 360.0,928.2 361.4,927.3 362.7,926.4 364.0,925.4 365.3,924.5 366.7,923.5 368.0,922.5 369.3,921.6 370.6,920.6 371.9,919.7 373.2,918.7 374.5,917.7 375.8,916.7 377.1,915.8 378.3,914.8 379.6,913.8 380.9,912.8 382.2,911.8 383.4,910.8 384.7,909.8 386.0,908.8 387.2,907.8 388.5,906.8 389.7,905.8 391.0,904.8 392.2,903.8 393.4,902.8 394.7,901.7 395.9,900.7 397.1,899.7 398.3,898.7 399.6,897.6 400.8,896.6 402.0,895.5 403.2,894.5 404.4,893.5 405.6,892.4 406.8,891.4 408.0,890.3 409.2,889.2 410.4,888.2 411.5,887.1 412.7,886.1 413.9,885.0 415.1,883.9 416.2,882.8 417.4,881.8 418.6,880.7 419.7,879.6 420.9,878.5 422.0,877.4 423.2,876.3 424.3,875.3 425.5,874.2 426.6,873.1 427.7,872.0 428.9,870.9 430.0,869.7 431.1,868.6 432.2,867.5 433.3,866.4 434.5,865.3 435.6,864.2 436.7,863.0 437.8,861.9 438.9,860.8 440.0,859.7 441.1,858.5 442.2,857.4 443.3,856.3 444.3,855.1 445.4,854.0 446.5,852.8 447.6,851.7 448.6,850.5 449.7,849.4 450.8,848.2 451.8,847.1 452.9,845.9 454.0,844.7 455.0,843.6 456.1,842.4 457.1,841.2 458.2,840.1 459.2,838.9 460.2,837.7 461.3,836.5 462.3,835.3 463.3,834.2 464.4,833.0 465.4,831.8 466.4,830.6 467.4,829.4 468.4,828.2 469.4,827.0 470.5,825.8 471.5,824.6 472.5,823.4 473.5,822.2 474.5,821.0 475.5,819.8 476.5,818.6 477.4,817.3 478.4,816.1 479.4,814.9 480.4,813.7 481.4,812.5 482.3,811.2 483.3,810.0 484.3,808.8 485.3,807.5 486.2,806.3 487.2,805.1 488.1,803.8 489.1,802.6 490.1,801.3 491.0,800.1 492.0,798.8 492.9,797.6 493.9,796.3 494.8,795.1 495.7,793.8 496.7,792.6 497.6,791.3 498.5,790.1 499.5,788.8 500.4,787.5 501.3,786.3 502.2,785.0 503.2,783.7 504.1,782.5 505.0,781.2 505.9,779.9 506.8,778.6 507.7,777.3 508.6,776.1 509.5,774.8 510.4,773.5 511.3,772.2 512.2,770.9 513.1,769.6 514.0,768.3 514.9,767.0 515.8,765.7 516.7,764.4 517.6,763.1 518.4,761.8 519.3,760.5 520.2,759.2 521.1,757.9 521.9,756.6 522.8,755.3 523.7,754.0 524.5,752.7 525.4,751.4 526.3,750.1 527.1,748.7 528.0,747.4 528.8,746.1 529.7,744.8 530.5,743.5 531.4,742.1 532.2,740.8 533.1,739.5 533.9,738.1 534.8,736.8 535.6,735.5 536.5,734.1 537.3,732.8 538.1,731.5 539.0,730.1 539.8,728.8 540.6,727.5 541.4,726.1 542.3,724.8 543.1,723.4 543.9,722.1 544.7,720.7 545.5,719.4 546.4,718.0 547.2,716.7 548.0,715.3 548.8,714.0 549.6,712.6 550.4,711.2 551.2,709.9 552.0,708.5 552.8,707.2 553.6,705.8 554.4,704.4 555.2,703.1 556.0,701.7 556.8,700.3 557.6,699.0 558.4,697.6 559.2,696.2 560.0,694.9 560.7,693.5 561.5,692.1 562.3,690.7 563.1,689.4 563.9,688.0 564.6,686.6 565.4,685.2 566.2,683.8 567.0,682.5 567.7,681.1 568.5,679.7 569.3,678.3 570.1,676.9 570.8,675.5 571.6,674.1 572.4,672.8 573.1,671.4 573.9,670.0 574.6,668.6 575.4,667.2 576.2,665.8 576.9,664.4 577.7,663.0 578.4,661.6 579.2,660.2 579.9,658.8 580.7,657.4 581.4,656.0 582.2,654.6 582.9,653.2 583.7,651.8 584.4,650.4 585.1,649.0 585.9,647.6 586.6,646.2 587.4,644.8 588.1,643.4 588.8,642.0 589.6,640.6 590.3,639.2 591.1,637.7 591.8,636.3 592.5,634.9 593.3,633.5 594.0,632.1 594.7,630.7 595.4,629.3 596.2,627.9 596.9,626.4 597.6,625.0 598.3,623.6 599.1,622.2 599.8,620.8 600.5,619.4 601.2,617.9 602.0,616.5 602.7,615.1 603.4,613.7 604.1,612.3 604.8,610.8 605.6,609.4 606.3,608.0 607.0,606.6 607.7,605.2 608.4,603.7 609.1,602.3 609.8,600.9 610.5,599.5 611.3,598.0 612.0,596.6 612.7,595.2 613.4,593.8 614.1,592.3 614.8,590.9 615.5,589.5 616.2,588.1 616.9,586.6 617.6,585.2 618.3,583.8 619.0,582.3 619.7,580.9 620.4,579.5 621.2,578.1 621.9,576.6 622.6,575.2 623.3,573.8 624.0,572.3 624.7,570.9 625.4,569.5 626.1,568.0 626.8,566.6 627.5,565.2 628.2,563.8 628.9,562.3 629.6,560.9 630.3,559.5 631.0,558.0 631.7,556.6 632.3,555.2 633.0,553.7 633.7,552.3 634.4,550.9 635.1,549.4 635.8,548.0 636.5,546.6 637.2,545.1 637.9,543.7 638.6,542.3 639.3,540.9 640.0,539.4 640.7,538.0 641.4,536.6 642.1,535.1 642.8,533.7 643.5,532.3 644.2,530.8 644.9,529.4 645.6,528.0 646.3,526.5 646.9,525.1 647.6,523.7 648.3,522.3 649.0,520.8 649.7,519.4 650.4,518.0 651.1,516.5 651.8,515.1 652.5,513.7 653.2,512.3 653.9,510.8 654.6,509.4 655.3,508.0 656.0,506.5 656.7,505.1 657.4,503.7 658.1,502.3 658.8,500.8 659.5,499.4 660.2,498.0 660.9,496.6 661.5,495.1 662.2,493.7 662.9,492.3 663.6,490.9 664.3,489.4 665.0,488.0 665.7,486.6 666.4,485.2 667.1,483.8 667.8,482.3 668.5,480.9 669.2,479.5 669.9,478.1 670.6,476.7 671.3,475.3 672.0,473.8 672.8,472.4 673.5,471.0 674.2,469.6 674.9,468.2 675.6,466.8 676.3,465.4 677.0,463.9 677.7,462.5 678.4,461.1 679.1,459.7 679.8,458.3 680.5,456.9 681.2,455.5 681.9,454.1 682.7,452.7 683.4,451.3 684.1,449.9 684.8,448.5 685.5,447.0 686.2,445.6 686.9,444.2 687.6,442.8 688.4,441.4 689.1,440.0 689.8,438.6 690.5,437.2 691.2,435.8 692.0,434.5 692.7,433.1 693.4,431.7 694.1,430.3 694.9,428.9 695.6,427.5 696.3,426.1 697.0,424.7 697.8,423.3 698.5,421.9 699.2,420.5 700.0,419.2 700.7,417.8 701.4,416.4 702.2,415.0 702.9,413.7 703.6,412.3 704.4,410.9 705.1,409.6 705.9,408.2 706.6,406.8 707.4,405.5 708.1,404.1 708.9,402.8 709.7,401.4 710.4,400.1 711.2,398.7 712.0,397.4 712.7,396.0 713.5,394.7 714.3,393.4 715.1,392.1 715.8,390.7 716.6,389.4 717.4,388.1 718.2,386.8 719.0,385.5 719.8,384.2 720.6,382.9 721.4,381.6 722.2,380.3 723.1,379.0 723.9,377.8 724.7,376.5 725.5,375.2 726.4,374.0 727.2,372.7 728.0,371.5 728.9,370.2 729.7,369.0 730.6,367.7 731.6,366.3 732.7,364.8 733.7,363.3 734.8,361.9 735.8,360.5 736.9,359.0 738.0,357.6 739.1,356.2 740.2,354.8 741.3,353.4 742.4,352.1 743.5,350.7 744.6,349.3 745.7,348.0 746.9,346.6 748.0,345.3 749.2,344.0 750.4,342.7 751.5,341.4 752.7,340.1 753.9,338.9 755.1,337.6 756.3,336.4 757.6,335.1 758.8,333.9 760.1,332.7 761.3,331.5 762.6,330.4 763.9,329.2 765.1,328.0 766.5,326.9 767.8,325.8 769.1,324.7 770.4,323.6 771.8,322.5 773.1,321.5 774.5,320.5 775.9,319.5 777.3,318.5 778.8,317.5 780.2,316.6 781.7,315.7 783.1,314.8 784.6,314.0 786.2,313.2 787.7,312.4 789.2,311.6 790.8,310.9 792.4,310.2 794.0,309.6 795.7,308.9 797.3,308.3 799.0,307.8 800.7,307.3 802.4,306.8 803.9,306.5 805.4,306.1 806.8,305.8 808.3,305.5 809.8,305.3 811.4,305.0 812.9,304.8 814.4,304.7 816.0,304.5 817.5,304.4 819.1,304.3 820.6,304.2 822.2,304.1 823.7,304.1 825.3,304.1 826.9,304.1 828.4,304.1 830.0,304.2 831.5,304.2 833.1,304.3 834.6,304.4 836.1,304.6 837.6,304.7 839.1,304.9 840.7,305.1 842.1,305.3 843.6,305.5 845.1,305.8 846.9,306.1 848.6,306.4 850.4,306.8 852.1,307.2 853.8,307.6 855.6,308.1 857.3,308.6 859.0,309.1 860.6,309.6 862.3,310.2 864.0,310.7 865.6,311.3 867.3,312.0 868.9,312.6 870.5,313.3 872.1,314.0 873.7,314.7 875.3,315.4 876.9,316.2 878.5,317.0 880.0,317.8 881.6,318.6 883.1,319.4 884.6,320.3 886.2,321.2 887.7,322.1 889.2,323.0 890.7,324.0 892.2,324.9 893.7,325.9 895.1,326.9 896.6,327.9 898.0,329.0 899.5,330.0 900.9,331.1 902.3,332.2 903.8,333.3 904.9,334.2 906.1,335.2 907.3,336.1 908.4,337.1 909.6,338.1 910.7,339.1 911.9,340.1 913.0,341.1 914.1,342.1 915.3,343.1 916.4,344.2 917.5,345.2 918.6,346.3 919.7,347.4 920.8,348.4 921.9,349.5 923.0,350.6 924.1,351.7 925.1,352.8 926.2,354.0 927.3,355.1 928.3,356.2 929.4,357.4 930.5,358.5 931.5,359.7 932.5,360.9 933.6,362.0 934.6,363.2 935.6,364.4 936.7,365.6 937.7,366.8 938.7,368.0 939.7,369.2 940.7,370.4 941.7,371.7 942.7,372.9 943.7,374.1 944.7,375.4 945.7,376.6 946.7,377.9 947.7,379.2 948.6,380.4 949.6,381.7 950.6,383.0 951.5,384.2 952.5,385.5 953.5,386.8 954.4,388.1 955.3,389.4 956.3,390.7 957.2,392.0 958.2,393.3 959.1,394.6 960.0,395.9 961.0,397.2 961.9,398.5 962.8,399.8 963.7,401.1 964.6,402.5 965.5,403.8 966.4,405.1 967.3,406.4 968.2,407.8 969.1,409.1 970.0,410.4 970.9,411.8 971.8,413.1 972.7,414.4 973.6,415.8 974.4,417.1 975.3,418.4 976.2,419.8 977.1,421.1 977.9,422.5 978.8,423.8 979.6,425.2 980.5,426.5 981.3,427.9 982.2,429.2 983.0,430.6 983.9,431.9 984.7,433.3 985.6,434.7 986.4,436.0 987.2,437.4 988.1,438.7 988.9,440.1 989.7,441.5 990.6,442.8 991.4,444.2 992.2,445.6 993.0,447.0 993.8,448.3 994.6,449.7 995.4,451.1 996.2,452.5 997.0,453.8 997.9,455.2 998.6,456.6 999.4,458.0 1000.2,459.4 1001.0,460.8 1001.8,462.1 1002.6,463.5 1003.4,464.9 1004.2,466.3 1005.0,467.7 1005.7,469.1 1006.5,470.5 1007.3,471.9 1008.1,473.3 1008.8,474.7 1009.6,476.1 1010.4,477.5 1011.1,478.9 1011.9,480.3 1012.7,481.7 1013.4,483.1 1014.2,484.5 1014.9,485.9 1015.7,487.3 1016.4,488.7 1017.2,490.1 1017.9,491.5 1018.7,492.9 1019.4,494.3 1020.2,495.7 1020.9,497.1 1021.7,498.6 1022.4,500.0 1023.1,501.4 1023.9,502.8 1024.6,504.2 1025.3,505.6 1026.1,507.0 1026.8,508.5 1027.5,509.9 1028.2,511.3 1029.0,512.7 1029.7,514.1 1030.4,515.6 1031.1,517.0 1031.9,518.4 1032.6,519.8 1033.3,521.2 1034.0,522.7 1034.7,524.1 1035.4,525.5 1036.2,526.9 1036.9,528.4 1037.6,529.8 1038.3,531.2 1039.0,532.6 1039.7,534.1 1040.4,535.5 1041.1,536.9 1041.8,538.4 1042.5,539.8 1043.2,541.2 1043.9,542.6 1044.6,544.1 1045.3,545.5 1046.0,546.9 1046.7,548.4 1047.4,549.8 1048.1,551.2 1048.8,552.7 1049.5,554.1 1050.2,555.5 1050.9,557.0 1051.6,558.4 1052.3,559.8 1053.0,561.2 1053.7,562.7 1054.4,564.1 1055.1,565.5 1055.8,567.0 1056.4,568.4 1057.1,569.8 1057.8,571.3 1058.5,572.7 1059.2,574.1 1059.9,575.6 1060.6,577.0 1061.3,578.4 1062.0,579.9 1062.7,581.3 1063.3,582.7 1064.0,584.2 1064.7,585.6 1065.4,587.0 1066.1,588.5 1066.8,589.9 1067.5,591.3 1068.2,592.7 1068.8,594.2 1069.5,595.6 1070.2,597.0 1070.9,598.5 1071.6,599.9 1072.3,601.3 1073.0,602.7 1073.7,604.2 1074.3,605.6 1075.0,607.0 1075.7,608.5 1076.4,609.9 1077.1,611.3 1077.8,612.7 1078.5,614.2 1079.2,615.6 1079.9,617.0 1080.6,618.4 1081.3,619.9 1081.9,621.3 1082.6,622.7 1083.3,624.1 1084.0,625.5 1084.7,627.0 1085.4,628.4 1086.1,629.8 1086.8,631.2 1087.5,632.6 1088.2,634.1 1088.9,635.5 1089.6,636.9 1090.3,638.3 1091.0,639.7 1091.7,641.1 1092.4,642.5 1093.1,644.0 1093.8,645.4 1094.5,646.8 1095.2,648.2 1095.9,649.6 1096.6,651.0 1097.4,652.4 1098.1,653.8 1098.8,655.2 1099.5,656.6 1100.2,658.0 1100.9,659.4 1101.6,660.8 1102.4,662.2 1103.1,663.6 1103.8,665.0 1104.5,666.4 1105.2,667.8 1106.0,669.2 1106.7,670.6 1107.4,672.0 1108.1,673.4 1108.9,674.8 1109.6,676.2 1110.3,677.6 1111.1,678.9 1111.8,680.3 1112.5,681.7 1113.3,683.1 1114.0,684.5 1114.8,685.9 1115.5,687.2 1116.2,688.6 1117.0,690.0 1117.7,691.4 1118.5,692.8 1119.2,694.1 1120.0,695.5 1120.7,696.9 1121.5,698.2 1122.3,699.6 1123.0,701.0 1123.8,702.3 1124.6,703.7 1125.3,705.1 1126.1,706.4 1126.9,707.8 1127.6,709.1 1128.4,710.5 1129.2,711.8 1130.0,713.2 1130.7,714.6 1131.5,715.9 1132.3,717.2 1133.1,718.6 1133.9,719.9 1134.7,721.3 1135.5,722.6 1136.3,724.0 1137.1,725.3 1137.9,726.6 1138.7,728.0 1139.5,729.3 1140.3,730.6 1141.1,732.0 1141.9,733.3 1142.7,734.6 1143.5,735.9 1144.4,737.3 1145.2,738.6 1146.0,739.9 1146.8,741.2 1147.7,742.5 1148.5,743.8 1149.3,745.2 1150.2,746.5 1151.0,747.8 1151.9,749.1 1152.7,750.4 1153.6,751.7 1154.4,753.0 1155.3,754.3 1156.1,755.6 1157.0,756.9 1157.8,758.2 1158.7,759.4 1159.6,760.7 1160.5,762.0 1161.3,763.3 1162.2,764.6 1163.1,765.9 1164.0,767.1 1164.9,768.4 1165.8,769.7 1166.7,770.9 1167.6,772.2 1168.5,773.5 1169.4,774.7 1170.3,776.0 1171.2,777.3 1172.1,778.5 1173.0,779.8 1173.9,781.0 1174.9,782.3 1175.8,783.5 1176.7,784.7 1177.7,786.0 1178.6,787.2 1179.5,788.5 1180.5,789.7 1181.4,790.9 1182.4,792.2 1183.3,793.4 1184.3,794.6 1185.3,795.8 1186.2,797.0 1187.2,798.3 1188.2,799.5 1189.1,800.7 1190.1,801.9 1191.1,803.1 1192.1,804.3 1193.1,805.5 1194.1,806.7 1195.1,807.9 1196.1,809.1 1197.1,810.3 1198.1,811.5 1199.1,812.6 1200.2,813.8 1201.2,815.0 1202.2,816.2 1203.2,817.3 1204.3,818.5 1205.3,819.7 1206.4,820.8 1207.4,822.0 1208.5,823.2 1209.5,824.3 1210.6,825.5 1211.7,826.6 1212.7,827.8 1213.8,828.9 1214.9,830.0 1216.0,831.2 1217.1,832.3 1218.2,833.4 1219.3,834.6 1220.4,835.7 1221.5,836.8 1222.6,837.9 1223.7,839.1 1224.8,840.2 1225.9,841.3 1227.1,842.4 1228.2,843.5 1229.3,844.6 1230.5,845.7 1231.6,846.8 1232.8,847.9 1233.9,848.9 1235.1,850.0 1236.3,851.1 1237.4,852.2 1238.6,853.3 1239.8,854.3 1241.0,855.4 1242.2,856.5 1243.4,857.5 1244.6,858.6 1245.8,859.6 1247.0,860.7 1248.2,861.7 1249.4,862.8 1250.6,863.8 1251.9,864.8 1253.1,865.9 1254.3,866.9 1255.6,867.9 1256.8,868.9 1258.1,870.0 1259.3,871.0 1260.6,872.0 1261.8,873.0 1263.1,874.0 1264.4,875.0 1265.6,876.0 1266.9,876.9 1268.2,877.9 1269.4,878.9 1270.7,879.9 1272.0,880.8 1273.3,881.8 1274.6,882.8 1275.9,883.7 1277.2,884.7 1278.5,885.6 1279.8,886.6 1281.1,887.5 1282.4,888.4 1283.7,889.3 1285.0,890.3 1286.3,891.2 1287.6,892.1 1288.9,893.0 1290.2,893.9 1291.5,894.8 1292.8,895.7 1294.2,896.6 1295.5,897.4 1296.8,898.3 1298.1,899.2 1299.4,900.0 1300.8,900.9 1302.1,901.8 1303.4,902.6 1304.7,903.4 1306.0,904.3 1307.4,905.1 1308.7,905.9 1310.0,906.8 1311.3,907.6 1312.7,908.4 1314.0,909.2 1315.3,910.0 1316.6,910.8 1318.0,911.5 1319.3,912.3 1320.6,913.1 1321.9,913.8 1323.3,914.6 1324.6,915.4 1325.9,916.1 1327.2,916.8 1328.6,917.6 1329.9,918.3 1331.2,919.0 1332.8,919.9 1334.4,920.7 1335.9,921.5 1337.5,922.4 1339.1,923.2 1340.6,924.0 1342.2,924.8 1343.8,925.6 1345.3,926.3 1346.9,927.1 1348.5,927.9 1350.0,928.6 1351.6,929.3 1353.1,930.1 1354.7,930.8 1356.2,931.5 1357.8,932.2 1359.3,932.9 1360.9,933.6 1362.4,934.3 1364.0,934.9 1365.5,935.6 1367.1,936.3 1368.6,936.9 1370.2,937.6 1371.8,938.2 1373.3,938.8 1374.9,939.4 1376.4,940.0 1378.0,940.7 1379.5,941.3 1381.1,941.8 1382.7,942.4 1384.2,943.0 1385.8,943.6 1387.4,944.2 1389.0,944.7 1390.6,945.3 1392.1,945.8 1393.7,946.4 1395.3,946.9 1396.9,947.5 1398.5,948.0 1400.1,948.5 1401.7,949.0 1403.3,949.6 1405.0,950.1 1406.6,950.6 1408.2,951.1 1409.8,951.6 1411.5,952.1 1413.1,952.6 1414.8,953.1 1416.4,953.6 1418.1,954.1 1419.8,954.5 1421.4,955.0 1423.1,955.5 1424.8,956.0 1426.5,956.4 1428.2,956.9 1429.9,957.4 1431.6,957.8 1433.3,958.3 1435.1,958.7 1436.8,959.2 1438.5,959.6 1440.3,960.1 1442.0,960.5 1443.5,960.9 1444.9,961.2 1446.4,961.6 1447.9,962.0 1449.3,962.3 1450.8,962.7 1452.3,963.0 1453.8,963.3 1455.2,963.7 1456.7,964.0 1458.2,964.4 1459.7,964.7 1461.2,965.0 1462.7,965.4 1464.2,965.7 1465.7,966.0 1467.2,966.3 1468.7,966.7 1470.2,967.0 1471.8,967.3 1473.3,967.6 1474.8,967.9 1476.3,968.2 1477.8,968.5 1479.4,968.8 1480.9,969.1 1482.4,969.4 1484.0,969.7 1485.5,970.0 1487.0,970.2 1488.6,970.5 1490.1,970.8 1491.6,971.1 1493.2,971.3 1494.7,971.6 1496.3,971.9 1497.8,972.1 1499.4,972.4 1500.9,972.6 1502.5,972.9 1504.0,973.1 1505.6,973.4 1507.2,973.6 1508.7,973.9 1510.3,974.1 1511.8,974.3 1513.4,974.6 1515.0,974.8 1516.5,975.0 1518.1,975.2 1519.7,975.4 1521.2,975.6 1522.8,975.9 1524.4,976.1 1525.9,976.3 1527.5,976.5 1529.1,976.6 1530.6,976.8 1532.2,977.0 1533.8,977.2 1535.4,977.4 1536.9,977.6 1538.5,977.7 1540.1,977.9 1541.6,978.1 1543.2,978.2 1544.8,978.4 1546.4,978.5 1547.9,978.7 1549.5,978.8 1551.1,979.0 1552.6,979.1 1554.2,979.2 1555.8,979.3 1557.4,979.5 1558.9,979.6 1559.9,979.7" fill="none" stroke="#007f00" stroke-width="4.6" stroke-linejoin="round"/>
<path d="M351.0,774.4 L353.3,774.6 L354.9,774.9 L356.5,775.1 L358.1,775.3 L359.7,775.4 L361.3,775.6 L362.9,775.7 L364.5,775.9 L366.0,775.9 L367.6,776.0 L369.1,776.1 L370.7,776.1 L372.2,776.1 L373.7,776.1 L375.2,776.1 L376.8,776.1 L378.3,776.0 L379.8,776.0 L381.5,775.9 L383.2,775.8 L384.2,775.7 M417.4,768.3 L419.0,767.7 L420.5,767.1 L422.1,766.5 L423.6,765.8 L425.2,765.2 L426.7,764.5 L428.2,763.9 L429.7,763.2 L431.3,762.5 L432.8,761.7 L434.3,761.0 L435.8,760.2 L437.3,759.5 L438.8,758.7 L440.2,757.9 L441.7,757.1 L443.2,756.2 L444.6,755.4 L446.1,754.5 L446.5,754.3 M470.2,738.2 L471.6,737.1 L472.9,736.1 L474.3,735.0 L475.7,733.9 L477.0,732.8 L478.4,731.7 L479.8,730.7 L481.1,729.5 L482.5,728.4 L483.6,727.5 L484.8,726.5 L485.9,725.5 L487.1,724.6 L488.2,723.6 L489.4,722.6 L490.5,721.6 L491.6,720.7 L492.8,719.7 L493.9,718.7 L495.0,717.7 L496.2,716.7 L497.3,715.7 L498.4,714.7 L499.2,714.0 M524.1,691.3 L525.2,690.3 L526.4,689.2 L527.5,688.2 L528.8,687.1 L530.0,685.9 L531.3,684.7 L532.6,683.5 L533.9,682.4 L535.2,681.2 L536.5,680.0 L537.8,678.9 L539.1,677.7 L540.4,676.5 L541.7,675.4 L543.0,674.2 L544.3,673.0 L545.5,671.9 L546.8,670.7 L548.1,669.6 M576.4,644.8 L577.7,643.7 L579.0,642.6 L580.3,641.4 L581.6,640.3 L582.9,639.2 L584.2,638.1 L585.5,637.0 L586.8,635.9 L588.1,634.8 L589.4,633.7 L590.7,632.6 L592.0,631.5 L593.3,630.4 L593.8,629.9 M629.6,600.3 L630.9,599.2 L632.2,598.1 L633.6,597.0 L634.9,596.0 L636.2,594.9 L637.6,593.8 L638.9,592.7 L640.3,591.7 L641.6,590.6 L643.0,589.5 L644.3,588.4 L645.7,587.4 L647.0,586.3 L648.4,585.2 L649.7,584.1 L651.1,583.1 M682.6,559.0 L684.1,558.0 L685.5,557.0 L686.9,556.0 L688.3,555.0 L689.8,554.0 L691.2,553.0 L692.6,552.0 L694.1,551.1 L695.5,550.1 L697.0,549.1 L698.4,548.2 L699.9,547.2 L701.3,546.3 L702.8,545.4 L704.3,544.4 L705.7,543.5 L706.1,543.2 M738.0,526.1 L739.6,525.4 L741.2,524.7 L742.8,524.0 L744.4,523.3 L746.0,522.6 L747.6,522.0 L749.2,521.4 L750.9,520.7 L752.5,520.1 L754.1,519.5 L755.8,519.0 L757.4,518.4 L759.1,517.9 L760.7,517.3 L762.4,516.8 L764.0,516.4 L765.7,515.9 L767.3,515.5 L767.8,515.3 M803.1,511.5 L804.8,511.6 L806.5,511.7 L808.2,511.9 L809.9,512.1 L811.6,512.3 L813.3,512.5 L815.0,512.8 L816.7,513.1 L818.4,513.4 L820.1,513.7 L821.8,514.1 L823.5,514.5 L825.2,514.8 L826.8,515.2 L828.5,515.7 L830.2,516.1 L831.9,516.5 L833.6,517.0 L835.0,517.4 M865.0,527.9 L866.6,528.5 L868.2,529.2 L869.8,529.9 L871.4,530.6 L873.0,531.3 L874.5,532.0 L876.1,532.7 L877.7,533.4 L879.2,534.1 L880.8,534.9 L882.3,535.6 L883.9,536.4 L885.4,537.1 L887.0,537.9 L888.5,538.7 L890.1,539.5 L890.5,539.7 M924.1,559.2 L925.5,560.1 L927.0,561.0 L928.4,562.0 L929.9,563.0 L931.3,563.9 L932.8,564.9 L934.2,565.9 L935.6,566.8 L937.1,567.8 L938.5,568.8 L939.9,569.8 L941.3,570.8 L942.8,571.8 L944.2,572.8 L945.6,573.8 L947.0,574.9 L948.4,575.9 L949.2,576.5 M978.1,598.8 L979.4,599.9 L980.8,601.0 L982.1,602.1 L983.5,603.2 L984.8,604.4 L986.1,605.5 L987.5,606.6 L988.8,607.7 L990.1,608.8 L991.4,609.9 L992.7,611.0 L994.1,612.2 L995.4,613.3 L996.7,614.4 L998.0,615.5 L999.3,616.7 L1000.6,617.8 L1001.0,618.1 M1028.2,642.7 L1029.4,643.9 L1030.7,645.1 L1031.9,646.3 L1033.1,647.5 L1034.4,648.6 L1035.6,649.8 L1036.9,651.0 L1038.1,652.2 L1039.3,653.4 L1040.6,654.6 L1041.8,655.8 L1043.0,657.0 L1044.2,658.2 L1045.5,659.4 L1046.7,660.6 L1047.9,661.9 L1049.1,663.1 L1050.3,664.3 L1051.6,665.5 M1075.7,690.7 L1076.9,691.9 L1078.1,693.2 L1079.2,694.5 L1080.4,695.8 L1081.6,697.0 L1082.7,698.3 L1083.9,699.6 L1085.0,700.9 L1086.2,702.1 L1087.4,703.4 L1088.5,704.7 L1089.7,706.0 L1090.8,707.3 L1092.0,708.6 L1093.1,709.9 L1094.2,711.2 L1095.4,712.5 L1096.5,713.8 L1097.7,715.1 M1124.8,747.1 L1125.9,748.4 L1127.1,749.8 L1128.2,751.1 L1129.3,752.5 L1130.4,753.8 L1131.5,755.1 L1132.6,756.5 L1133.7,757.8 L1134.9,759.1 L1136.0,760.5 L1137.1,761.8 L1138.2,763.1 L1139.3,764.5 L1140.4,765.8 L1141.6,767.1 L1142.7,768.5 L1143.8,769.8 L1144.9,771.1 L1146.0,772.4 L1147.2,773.8 L1148.3,775.1 L1149.4,776.4 L1150.5,777.7 L1151.7,779.0 L1152.8,780.4 L1153.9,781.7 L1155.0,783.0 L1156.2,784.3 L1157.3,785.6 L1157.9,786.4 M1176.8,807.4 L1178.0,808.6 L1179.1,809.9 L1180.3,811.1 L1181.5,812.4 L1182.6,813.6 L1183.8,814.8 L1185.0,816.1 L1186.2,817.3 L1187.4,818.5 L1188.5,819.7 L1189.7,820.9 L1190.9,822.1 L1192.1,823.3 L1193.3,824.5 L1194.5,825.7 L1195.7,826.9 L1196.9,828.1 L1198.2,829.3 L1199.4,830.4 L1200.6,831.6 L1201.8,832.7 L1203.0,833.9 L1204.3,835.0 L1205.5,836.2 L1206.7,837.3 L1207.3,837.8 M1223.6,851.8 L1224.9,852.8 L1226.2,853.9 L1227.5,854.9 L1228.8,855.9 L1230.1,856.9 L1231.5,857.9 L1232.8,858.9 L1234.1,859.9 L1235.5,860.9 L1236.8,861.9 L1238.2,862.8 L1239.5,863.8 L1240.9,864.8 L1242.3,865.7 L1243.6,866.7 L1245.0,867.6 L1246.4,868.5 L1247.8,869.5 L1249.2,870.4 L1250.6,871.3 L1251.8,872.1 M1292.2,895.6 L1293.7,896.4 L1295.2,897.2 L1296.7,898.0 L1298.3,898.8 L1299.8,899.6 L1301.4,900.3 L1302.9,901.1 L1304.5,901.9 L1306.0,902.6 L1307.6,903.4 L1309.2,904.1 L1310.7,904.9 L1312.3,905.6 L1313.9,906.4 L1315.4,907.1 L1317.0,907.8 L1318.6,908.5 L1320.2,909.3 L1321.7,910.0 L1323.3,910.7 L1324.9,911.4 L1325.8,911.8 M1358.3,924.9 L1359.9,925.5 L1361.6,926.1 L1363.2,926.7 L1364.8,927.3 L1366.5,927.9 L1368.1,928.5 L1369.7,929.0 L1371.4,929.6 L1373.0,930.2 L1374.6,930.7 L1376.3,931.3 L1377.9,931.8 L1379.6,932.4 L1381.2,932.9 L1382.9,933.4 L1384.5,934.0 L1386.2,934.5 L1387.8,935.0 L1389.5,935.5 L1391.1,936.0 L1392.3,936.4 M1427.0,946.0 L1428.7,946.4 L1430.4,946.8 L1432.0,947.2 L1433.7,947.6 L1435.4,948.0 L1437.1,948.4 L1438.8,948.8 L1440.4,949.2 L1442.1,949.6 L1443.8,950.0 L1445.5,950.4 L1447.2,950.7 L1448.9,951.1 L1450.6,951.5 L1452.2,951.8 L1453.9,952.2 L1455.6,952.5 L1457.3,952.9 L1459.0,953.2 L1460.5,953.5 M1492.0,959.3 L1493.7,959.6 L1495.4,959.9 L1497.1,960.1 L1498.8,960.4 L1500.6,960.7 L1502.3,960.9 L1504.0,961.2 L1505.7,961.4 L1507.4,961.7 L1509.1,962.0 L1510.8,962.2 L1512.5,962.4 L1514.2,962.7 L1516.0,962.9 L1517.7,963.2 L1519.4,963.4 L1521.1,963.6 L1522.8,963.9 L1524.5,964.1 L1524.8,964.1 M1557.2,967.9 L1559.0,968.1 L1560.7,968.2 L1562.4,968.4 L1564.1,968.6 L1565.9,968.7 L1567.6,968.9 L1569.3,969.1 L1571.0,969.2 L1572.8,969.4 L1574.5,969.5 L1576.2,969.7 L1577.9,969.8 L1579.7,970.0 L1581.4,970.1 L1583.1,970.3 L1584.9,970.4 L1586.6,970.6 L1587.8,970.7" fill="none" stroke="#0000ff" stroke-width="4.6" stroke-linejoin="round" stroke-linecap="butt"/>
<path d="M351.0,696.8 L353.6,697.5 L355.2,698.0 L356.8,698.5 L358.4,699.0 L359.9,699.4 L361.5,699.8 L363.1,700.2 L364.7,700.6 L366.3,700.9 L367.8,701.3 L369.4,701.6 L371.0,701.9 L372.6,702.2 L374.2,702.4 L375.7,702.7 L377.3,702.9 L378.9,703.1 L380.4,703.3 L382.0,703.5 L383.6,703.6 L384.1,703.7 M416.9,702.7 L418.4,702.5 L420.0,702.3 L421.5,702.1 L423.1,701.8 L424.6,701.5 L426.1,701.2 L427.7,700.9 L429.2,700.6 L430.7,700.3 L432.3,700.0 L433.8,699.6 L435.3,699.3 L436.9,698.9 L438.4,698.5 L439.9,698.1 L441.4,697.7 L442.9,697.3 L444.5,696.8 L446.0,696.4 L447.0,696.1 M482.2,682.6 L483.6,681.9 L485.1,681.2 L486.5,680.5 L488.0,679.8 L489.4,679.1 L490.9,678.4 L492.3,677.7 L493.7,677.0 L495.2,676.3 L496.6,675.6 L498.0,674.8 L499.4,674.1 L500.9,673.3 L502.3,672.6 L503.7,671.8 L505.1,671.1 L506.5,670.3 L507.9,669.6 L509.3,668.8 L509.8,668.5 M538.1,651.8 L539.4,651.0 L540.7,650.1 L542.0,649.3 L543.4,648.4 L544.7,647.6 L546.0,646.7 L547.3,645.8 L548.6,645.0 L549.9,644.1 L551.3,643.2 L552.6,642.3 L553.9,641.5 L555.1,640.6 L556.4,639.7 L557.7,638.8 L559.0,637.9 L560.3,637.0 L561.6,636.1 L562.9,635.2 L564.1,634.3 L564.6,634.0 M591.5,613.5 L592.7,612.5 L593.9,611.5 L595.1,610.5 L596.3,609.5 L597.5,608.6 L598.7,607.6 L599.9,606.6 L601.1,605.6 L602.3,604.6 L603.5,603.5 L604.7,602.5 L605.9,601.5 L607.0,600.5 L608.2,599.5 L609.4,598.5 L610.0,597.9 M644.9,564.9 L646.0,563.8 L647.1,562.7 L648.2,561.6 L649.3,560.5 L650.4,559.3 L651.4,558.2 L652.5,557.1 L653.6,555.9 L654.7,554.8 L655.8,553.7 L656.8,552.5 L657.9,551.4 L659.0,550.2 L660.0,549.1 L661.1,548.0 L662.2,546.8 L663.2,545.7 L664.3,544.5 L665.4,543.3 L666.4,542.2 L667.5,541.0 L667.8,540.6 M688.1,518.2 L689.1,517.0 L690.2,515.9 L691.3,514.7 L692.3,513.5 L693.4,512.3 L694.4,511.1 L695.5,510.0 L696.5,508.8 L697.6,507.6 L698.7,506.4 L699.7,505.3 L700.8,504.1 L701.9,502.9 L702.9,501.7 L704.0,500.5 L705.1,499.4 L706.1,498.2 L707.2,497.0 L708.3,495.8 L709.3,494.7 L710.4,493.5 L711.5,492.3 L712.6,491.2 L713.7,490.0 L714.7,488.8 L715.8,487.6 M736.5,466.1 L737.7,465.0 L738.8,463.8 L740.0,462.7 L741.1,461.6 L742.3,460.5 L743.4,459.3 L744.6,458.2 L745.8,457.1 L746.9,456.0 L748.1,454.9 L749.3,453.8 L750.5,452.7 L751.6,451.6 L752.8,450.6 L754.0,449.5 L755.2,448.4 L756.4,447.4 L757.6,446.3 L758.9,445.3 L760.1,444.2 L761.3,443.2 L761.9,442.7 M787.1,425.0 L788.5,424.3 L789.8,423.5 L791.2,422.8 L792.6,422.0 L794.0,421.3 L795.4,420.6 L796.8,420.0 L798.2,419.3 L799.6,418.7 L801.1,418.1 L802.5,417.5 L804.0,416.9 L805.4,416.3 L806.9,415.8 L808.4,415.3 L809.9,414.8 L810.8,414.4 M855.8,408.2 L857.3,408.3 L858.9,408.4 L860.5,408.5 L862.0,408.6 L863.6,408.7 L865.2,408.9 L866.7,409.0 L868.3,409.2 L869.8,409.4 L871.4,409.6 L872.9,409.9 L874.5,410.1 L876.0,410.4 L877.6,410.7 L879.1,411.0 L880.6,411.4 L882.1,411.7 L883.6,412.1 L884.1,412.2 M914.6,424.0 L916.0,424.7 L917.4,425.4 L918.8,426.2 L920.1,426.9 L921.5,427.7 L922.9,428.5 L924.2,429.3 L925.6,430.1 L926.9,431.0 L928.3,431.8 L929.6,432.7 L930.9,433.5 L932.3,434.4 L933.6,435.3 L934.9,436.2 L936.2,437.1 L937.5,438.0 L938.8,439.0 L940.1,439.9 L941.4,440.8 L942.7,441.8 L944.0,442.8 M970.1,465.4 L971.3,466.6 L972.4,467.7 L973.6,468.9 L974.8,470.0 L975.9,471.2 L977.1,472.3 L978.2,473.5 L979.3,474.7 L980.5,475.8 L981.6,477.0 L982.7,478.2 L983.9,479.4 L985.0,480.6 L986.1,481.7 L987.2,482.9 L988.3,484.1 L989.4,485.3 L990.5,486.5 L991.6,487.7 L992.7,488.9 L993.4,489.7 M1015.0,514.9 L1016.0,516.2 L1017.0,517.4 L1018.0,518.6 L1019.0,519.8 L1020.0,521.1 L1020.9,522.3 L1021.9,523.5 L1022.9,524.8 L1023.9,526.0 L1024.8,527.2 L1025.8,528.5 L1026.8,529.7 L1027.7,530.9 L1028.7,532.2 L1029.6,533.4 L1030.6,534.6 L1031.5,535.9 L1032.5,537.1 L1033.4,538.4 L1034.4,539.6 L1035.3,540.8 L1036.2,542.1 L1037.2,543.3 L1037.3,543.5 M1061.1,576.6 L1062.0,577.9 L1062.9,579.1 L1063.8,580.4 L1064.6,581.7 L1065.5,583.0 L1066.4,584.2 L1067.3,585.5 L1068.1,586.8 L1069.0,588.0 L1069.9,589.3 L1070.8,590.6 L1071.6,591.9 L1072.5,593.1 L1073.4,594.4 L1074.2,595.7 L1075.1,597.0 L1076.0,598.2 L1076.8,599.5 L1077.7,600.8 L1078.3,601.7 M1098.4,631.9 L1099.3,633.2 L1100.1,634.5 L1101.0,635.8 L1101.8,637.1 L1102.7,638.4 L1103.5,639.7 L1104.4,641.0 L1105.2,642.3 L1106.1,643.7 L1106.9,645.0 L1107.8,646.3 L1108.6,647.6 L1109.4,648.9 L1110.3,650.2 L1111.1,651.5 L1111.9,652.8 L1112.8,654.1 L1113.6,655.4 L1114.5,656.8 L1115.3,658.1 L1116.1,659.4 L1117.0,660.7 L1117.8,662.0 L1118.3,662.9 M1136.1,691.5 L1136.9,692.8 L1137.7,694.1 L1138.5,695.5 L1139.4,696.8 L1140.2,698.1 L1141.0,699.5 L1141.8,700.8 L1142.7,702.1 L1143.5,703.5 L1144.3,704.8 L1145.2,706.1 L1146.0,707.5 L1146.8,708.8 L1147.6,710.1 L1148.5,711.5 L1149.3,712.8 L1150.1,714.1 L1151.0,715.5 L1151.8,716.8 L1152.6,718.1 L1153.5,719.4 L1154.3,720.8 L1154.9,721.7 M1174.0,751.0 L1174.9,752.3 L1175.8,753.6 L1176.7,754.9 L1177.6,756.2 L1178.5,757.5 L1179.4,758.8 L1180.3,760.1 L1181.2,761.4 L1182.1,762.7 L1183.0,764.0 L1183.9,765.2 L1184.8,766.5 L1185.7,767.8 L1186.6,769.1 L1187.5,770.3 L1188.5,771.6 L1189.4,772.9 L1190.3,774.2 L1191.3,775.4 L1192.2,776.7 L1193.1,777.9 L1194.1,779.2 L1194.9,780.2 M1216.8,807.4 L1217.8,808.6 L1218.9,809.8 L1219.9,810.9 L1221.0,812.1 L1222.0,813.3 L1223.1,814.5 L1224.2,815.6 L1225.2,816.8 L1226.3,818.0 L1227.4,819.1 L1228.5,820.3 L1229.5,821.4 L1230.6,822.6 L1231.7,823.7 L1232.8,824.8 L1233.9,826.0 L1235.0,827.1 L1236.2,828.2 L1237.3,829.4 L1238.4,830.5 L1239.5,831.6 L1239.9,832.0 M1269.2,858.4 L1270.4,859.4 L1271.6,860.4 L1272.9,861.4 L1274.1,862.4 L1275.3,863.4 L1276.6,864.4 L1277.8,865.4 L1279.1,866.3 L1280.3,867.3 L1281.6,868.3 L1282.9,869.2 L1284.1,870.2 L1285.4,871.2 L1286.7,872.1 L1288.0,873.0 L1289.2,874.0 L1290.5,874.9 L1291.8,875.9 L1293.1,876.8 L1294.4,877.7 L1295.7,878.6 L1297.0,879.5 M1328.2,899.3 L1329.6,900.1 L1331.0,900.9 L1332.3,901.6 L1333.7,902.4 L1335.1,903.2 L1336.5,903.9 L1337.9,904.7 L1339.3,905.4 L1340.7,906.2 L1342.1,906.9 L1343.5,907.6 L1344.9,908.4 L1346.3,909.1 L1347.7,909.8 L1349.1,910.5 L1350.5,911.2 L1351.9,911.9 L1353.4,912.6 L1354.8,913.3 L1356.2,914.0 L1357.6,914.6 L1357.9,914.7 M1395.7,930.6 L1397.2,931.2 L1398.7,931.7 L1400.2,932.2 L1401.7,932.8 L1403.2,933.3 L1404.7,933.8 L1406.2,934.3 L1407.7,934.9 L1409.2,935.4 L1410.7,935.9 L1412.2,936.4 L1413.7,936.9 L1415.2,937.4 L1416.7,937.9 L1418.2,938.3 L1419.7,938.8 L1421.2,939.3 L1422.7,939.8 L1424.2,940.2 L1425.7,940.7 L1426.8,941.0 M1462.0,950.6 L1463.6,950.9 L1465.1,951.3 L1466.7,951.7 L1468.2,952.0 L1469.8,952.4 L1471.3,952.7 L1472.9,953.1 L1474.4,953.4 L1476.0,953.8 L1477.5,954.1 L1479.1,954.4 L1480.6,954.8 L1482.2,955.1 L1483.8,955.4 L1485.3,955.8 L1486.9,956.1 L1488.4,956.4 L1490.0,956.7 L1491.6,957.0 L1493.1,957.3 L1493.9,957.5 M1528.1,963.4 L1529.7,963.6 L1531.3,963.9 L1532.9,964.1 L1534.4,964.3 L1536.0,964.6 L1537.6,964.8 L1539.1,965.0 L1540.7,965.2 L1542.3,965.5 L1543.9,965.7 L1545.4,965.9 L1547.0,966.1 L1548.6,966.3 L1550.2,966.5 L1551.7,966.7 L1553.3,966.9 L1554.9,967.1 L1556.5,967.3 L1558.0,967.5 L1559.6,967.7 L1559.9,967.7" fill="none" stroke="#ff0000" stroke-width="4.6" stroke-linejoin="round" stroke-linecap="butt"/>
<path d="M351.0,937.3 L353.9,935.8 L355.5,935.0 L357.0,934.2 L358.6,933.4 L360.2,932.5 L361.7,931.7 L363.3,930.9 L364.8,930.0 L366.3,929.2 L367.8,928.3 L369.4,927.5 L370.9,926.6 L372.4,925.7 L373.9,924.9 L375.3,924.0 L376.8,923.1 L377.8,922.5 M407.9,901.7 L409.3,900.7 L410.6,899.7 L411.9,898.6 L413.3,897.6 L414.6,896.5 L415.9,895.5 L417.2,894.4 L418.5,893.4 L419.8,892.3 L421.1,891.2 L422.4,890.2 L423.6,889.1 L424.9,888.0 L426.2,886.9 L427.4,885.8 L428.7,884.7 L430.0,883.6 L431.2,882.5 M458.1,856.8 L459.2,855.6 L460.4,854.4 L461.5,853.2 L462.7,852.0 L463.8,850.8 L465.0,849.6 L466.1,848.4 L467.2,847.2 L468.4,846.0 L469.5,844.8 L470.6,843.6 L471.8,842.3 L472.9,841.1 L474.0,839.9 L475.1,838.7 L476.3,837.4 L477.4,836.2 L478.5,835.0 L479.6,833.7 L480.7,832.5 L481.8,831.2 L482.9,830.0 L483.3,829.6 M507.8,800.9 L508.8,799.6 L509.9,798.4 L510.9,797.1 L512.0,795.8 L513.0,794.5 L514.1,793.2 L515.1,791.9 L516.2,790.6 L517.2,789.3 L518.2,788.0 L519.3,786.7 L520.3,785.4 L521.3,784.1 L522.4,782.8 L523.4,781.5 L524.4,780.1 L525.5,778.8 L526.5,777.5 L527.5,776.2 L528.5,774.9 L528.9,774.4 M552.0,743.4 L553.0,742.0 L554.0,740.6 L555.0,739.3 L556.0,737.9 L556.9,736.5 L557.9,735.2 L558.9,733.8 L559.8,732.4 L560.8,731.0 L561.8,729.7 L562.7,728.3 L563.7,726.9 L564.7,725.5 L565.6,724.1 L566.6,722.8 L567.5,721.4 L568.5,720.0 L569.5,718.6 L570.4,717.2 L570.6,717.0 M592.8,683.3 L593.7,681.9 L594.6,680.5 L595.6,679.0 L596.5,677.6 L597.4,676.2 L598.3,674.7 L599.2,673.3 L600.1,671.8 L601.0,670.4 L601.9,668.9 L602.8,667.5 L603.7,666.0 L604.6,664.6 L605.5,663.1 L606.4,661.7 L607.3,660.2 L608.2,658.8 L609.1,657.3 L609.9,656.1 M629.1,624.0 L629.9,622.5 L630.8,621.0 L631.7,619.5 L632.5,618.0 L633.4,616.5 L634.3,615.0 L635.1,613.5 L636.0,612.1 L636.8,610.6 L637.7,609.1 L638.6,607.6 L639.4,606.1 L640.3,604.6 L641.1,603.1 L642.0,601.6 L642.8,600.1 L643.7,598.6 L644.5,597.1 L644.9,596.4 M665.1,560.6 L665.9,559.1 L666.7,557.6 L667.6,556.1 L668.4,554.6 L669.2,553.1 L670.0,551.6 L670.9,550.2 L671.7,548.7 L672.5,547.2 L673.4,545.7 L674.2,544.2 L675.0,542.8 L675.9,541.3 L676.7,539.8 L677.6,538.4 L678.4,536.9 L679.3,535.4 L680.1,534.0 L681.0,532.5 M696.8,507.7 L697.8,506.3 L698.8,504.9 L699.8,503.5 L700.7,502.2 L701.7,500.8 L702.8,499.5 L703.8,498.1 L704.8,496.8 L705.8,495.4 L706.9,494.1 L707.9,492.8 L709.0,491.5 L710.0,490.1 L711.1,488.8 L712.2,487.5 L713.3,486.2 L714.3,484.9 L715.4,483.6 L716.5,482.3 L717.6,481.0 L718.8,479.7 L719.9,478.4 L721.0,477.1 L721.9,476.0 M750.9,447.0 L752.2,445.8 L753.5,444.7 L754.9,443.7 L756.2,442.6 L757.6,441.5 L759.0,440.5 L760.3,439.4 L761.7,438.4 L763.1,437.4 L764.5,436.4 L765.9,435.4 L767.4,434.5 L768.8,433.5 L770.3,432.6 L771.7,431.7 L773.2,430.8 L774.7,429.9 L776.2,429.1 L776.7,428.8 M805.1,416.9 L806.7,416.5 L808.4,416.0 L810.1,415.6 L811.7,415.2 L813.4,414.9 L815.1,414.5 L816.7,414.2 L818.4,413.9 L820.1,413.7 L821.8,413.4 L823.5,413.2 L825.1,413.1 L826.8,412.9 L828.5,412.8 L830.2,412.7 L831.8,412.6 L833.5,412.6 L835.2,412.6 L836.9,412.6 L838.5,412.6 L840.2,412.7 L841.8,412.8 L842.9,412.9 M874.7,421.2 L876.3,421.8 L877.8,422.5 L879.3,423.3 L880.9,424.0 L882.4,424.7 L883.9,425.5 L885.4,426.3 L886.9,427.1 L888.4,427.9 L889.9,428.8 L891.4,429.6 L892.9,430.5 L894.3,431.4 L895.8,432.3 L897.3,433.2 L898.7,434.2 L899.9,434.9 M927.0,455.6 L928.3,456.8 L929.6,457.9 L930.9,459.0 L932.2,460.1 L933.5,461.3 L934.7,462.4 L936.0,463.6 L937.3,464.7 L938.5,465.9 L939.7,467.0 L941.0,468.2 L942.2,469.3 L943.4,470.5 L944.6,471.7 L945.9,472.9 L947.1,474.0 L948.3,475.2 L949.2,476.2 M971.7,500.6 L972.8,501.8 L973.9,503.1 L975.0,504.4 L976.1,505.7 L977.1,506.9 L978.2,508.2 L979.3,509.5 L980.3,510.8 L981.4,512.1 L982.4,513.4 L983.5,514.7 L984.5,516.1 L985.5,517.4 L986.6,518.7 L987.6,520.0 L988.6,521.4 L989.7,522.7 L990.7,524.0 L991.7,525.4 L992.7,526.7 L992.9,527.0 M1015.1,558.4 L1016.0,559.8 L1017.0,561.3 L1017.9,562.7 L1018.8,564.1 L1019.8,565.5 L1020.7,567.0 L1021.6,568.4 L1022.6,569.9 L1023.5,571.3 L1024.4,572.7 L1025.3,574.2 L1026.2,575.6 L1027.1,577.1 L1028.1,578.5 L1029.0,580.0 L1029.9,581.4 L1030.8,582.9 L1031.7,584.3 L1032.6,585.8 L1033.5,587.3 L1033.9,588.0 M1053.4,620.9 L1054.2,622.4 L1055.1,623.9 L1055.9,625.3 L1056.8,626.8 L1057.6,628.3 L1058.5,629.8 L1059.4,631.3 L1060.2,632.8 L1061.1,634.2 L1061.9,635.7 L1062.8,637.2 L1063.6,638.7 L1064.5,640.2 L1065.3,641.7 L1066.2,643.2 L1067.0,644.6 L1067.8,646.1 L1068.7,647.6 L1069.5,649.1 L1070.4,650.6 L1070.8,651.3 M1090.0,684.3 L1090.9,685.7 L1091.8,687.2 L1092.7,688.7 L1093.5,690.1 L1094.4,691.6 L1095.3,693.0 L1096.2,694.5 L1097.1,695.9 L1098.0,697.4 L1098.9,698.8 L1099.8,700.3 L1100.7,701.7 L1101.6,703.2 L1102.5,704.6 L1103.4,706.0 L1104.3,707.5 L1105.2,708.9 L1106.1,710.4 L1107.0,711.8 L1107.2,712.0 M1124.8,738.4 L1125.8,739.8 L1126.8,741.1 L1127.8,742.5 L1128.8,743.9 L1129.7,745.3 L1130.7,746.7 L1131.7,748.1 L1132.7,749.5 L1133.7,750.8 L1134.7,752.2 L1135.7,753.6 L1136.7,755.0 L1137.7,756.3 L1138.7,757.7 L1139.7,759.1 L1140.7,760.4 L1141.7,761.8 L1142.7,763.2 L1143.7,764.5 L1144.7,765.9 L1145.8,767.2 L1146.8,768.6 L1147.8,770.0 L1148.8,771.3 L1149.9,772.7 L1150.9,774.0 L1151.9,775.4 L1152.9,776.7 L1154.0,778.1 L1155.0,779.4 L1156.1,780.8 L1157.1,782.1 L1158.0,783.2 M1176.0,805.8 L1177.1,807.1 L1178.2,808.4 L1179.2,809.7 L1180.3,811.0 L1181.4,812.3 L1182.5,813.6 L1183.6,814.8 L1184.7,816.1 L1185.9,817.4 L1187.0,818.7 L1188.1,820.0 L1189.2,821.2 L1190.3,822.5 L1191.5,823.7 L1192.6,825.0 L1193.7,826.2 L1194.9,827.5 L1196.0,828.7 L1197.2,830.0 L1198.3,831.2 L1199.5,832.4 L1200.7,833.6 L1200.9,833.8 M1223.6,855.6 L1224.9,856.7 L1226.1,857.8 L1227.4,858.9 L1228.7,860.0 L1230.0,861.0 L1231.3,862.1 L1232.6,863.2 L1234.0,864.2 L1235.3,865.3 L1236.6,866.3 L1237.9,867.4 L1239.3,868.4 L1240.6,869.4 L1242.0,870.4 L1243.3,871.5 L1244.7,872.5 L1246.0,873.5 L1247.4,874.5 L1248.8,875.4 L1250.2,876.4 L1251.5,877.4 L1252.0,877.7 M1281.0,896.5 L1282.5,897.3 L1283.9,898.2 L1285.4,899.1 L1286.9,899.9 L1288.4,900.8 L1289.8,901.6 L1291.3,902.5 L1292.8,903.3 L1294.3,904.2 L1295.8,905.0 L1297.3,905.8 L1298.8,906.7 L1300.3,907.5 L1301.8,908.3 L1303.3,909.1 L1304.8,909.9 L1306.3,910.7 L1307.8,911.5 L1309.3,912.3 L1310.8,913.1 L1312.3,913.9 M1347.2,930.7 L1348.8,931.4 L1350.4,932.1 L1351.9,932.8 L1353.5,933.5 L1355.1,934.2 L1356.6,934.8 L1358.2,935.5 L1359.8,936.2 L1361.4,936.8 L1363.0,937.5 L1364.5,938.1 L1366.1,938.8 L1367.7,939.4 L1369.3,940.0 L1370.9,940.7 L1372.5,941.3 L1374.1,941.9 L1375.7,942.5 L1377.3,943.1 L1378.9,943.7 M1413.1,955.5 L1414.8,956.0 L1416.4,956.5 L1418.0,957.0 L1419.7,957.5 L1421.3,958.0 L1423.0,958.5 L1424.6,958.9 L1426.3,959.4 L1427.9,959.9 L1429.5,960.3 L1431.2,960.8 L1432.8,961.2 L1434.5,961.7 L1436.1,962.1 L1437.8,962.6 L1439.5,963.0 L1441.1,963.4 L1442.8,963.8 L1444.4,964.3 L1445.0,964.4 M1480.1,971.9 L1481.7,972.2 L1483.4,972.5 L1485.1,972.8 L1486.8,973.1 L1488.5,973.3 L1490.2,973.6 L1491.8,973.9 L1493.5,974.2 L1495.2,974.4 L1496.9,974.7 L1498.6,974.9 L1500.3,975.2 L1502.0,975.4 L1503.7,975.6 L1505.4,975.8 L1507.0,976.1 L1508.7,976.3 L1510.4,976.5 L1511.8,976.7 M1545.3,979.5 L1547.0,979.6 L1548.7,979.7 L1550.4,979.8 L1552.1,979.8 L1553.8,979.9 L1555.5,980.0 L1557.2,980.0 L1558.9,980.1" fill="none" stroke="#007f00" stroke-width="4.6" stroke-linejoin="round" stroke-linecap="butt"/>
</g>
<rect x="351.0" y="63.8" width="1262.0" height="929.0" fill="none" stroke="#000" stroke-width="5.6"/>
<line x1="351.0" y1="992.8" x2="351.0" y2="1000.8" stroke="#000" stroke-width="5.6"/>
<line x1="491.2" y1="992.8" x2="491.2" y2="1009.8" stroke="#000" stroke-width="5.6"/>
<line x1="631.4" y1="992.8" x2="631.4" y2="1000.8" stroke="#000" stroke-width="5.6"/>
<line x1="771.7" y1="992.8" x2="771.7" y2="1009.8" stroke="#000" stroke-width="5.6"/>
<line x1="911.9" y1="992.8" x2="911.9" y2="1000.8" stroke="#000" stroke-width="5.6"/>
<line x1="1052.1" y1="992.8" x2="1052.1" y2="1009.8" stroke="#000" stroke-width="5.6"/>
<line x1="1192.3" y1="992.8" x2="1192.3" y2="1000.8" stroke="#000" stroke-width="5.6"/>
<line x1="1332.6" y1="992.8" x2="1332.6" y2="1009.8" stroke="#000" stroke-width="5.6"/>
<line x1="1472.8" y1="992.8" x2="1472.8" y2="1000.8" stroke="#000" stroke-width="5.6"/>
<line x1="1613.0" y1="992.8" x2="1613.0" y2="1009.8" stroke="#000" stroke-width="5.6"/>
<line x1="332.0" y1="992.8" x2="351.0" y2="992.8" stroke="#000" stroke-width="5.6"/>
<line x1="341.0" y1="876.7" x2="351.0" y2="876.7" stroke="#000" stroke-width="5.6"/>
<line x1="332.0" y1="760.5" x2="351.0" y2="760.5" stroke="#000" stroke-width="5.6"/>
<line x1="341.0" y1="644.4" x2="351.0" y2="644.4" stroke="#000" stroke-width="5.6"/>
<line x1="332.0" y1="528.3" x2="351.0" y2="528.3" stroke="#000" stroke-width="5.6"/>
<line x1="341.0" y1="412.2" x2="351.0" y2="412.2" stroke="#000" stroke-width="5.6"/>
<line x1="332.0" y1="296.0" x2="351.0" y2="296.0" stroke="#000" stroke-width="5.6"/>
<line x1="341.0" y1="179.9" x2="351.0" y2="179.9" stroke="#000" stroke-width="5.6"/>
<line x1="332.0" y1="63.8" x2="351.0" y2="63.8" stroke="#000" stroke-width="5.6"/>
<text x="491.2" y="1086" text-anchor="middle" class="t">450</text>
<text x="771.7" y="1086" text-anchor="middle" class="t">500</text>
<text x="1052.1" y="1086" text-anchor="middle" class="t">550</text>
<text x="1332.6" y="1086" text-anchor="middle" class="t">600</text>
<text x="1613.0" y="1086" text-anchor="middle" class="t">650</text>
<text x="318.5" y="1015.8" text-anchor="end" class="t">0</text>
<text x="318.5" y="783.5" text-anchor="end" class="t">500</text>
<text x="318.5" y="551.3" text-anchor="end" class="t">1000</text>
<text x="318.5" y="319.0" text-anchor="end" class="t">1500</text>
<text x="318.5" y="86.8" text-anchor="end" class="t">2000</text>
<line x1="1268" y1="119.6" x2="1355" y2="119.6" stroke="#0000ff" stroke-width="5"/>
<text class="lg" transform="scale(0.94,1)" x="1448.2 1483.3 1502.5 1534.3 1553.2" y="131.7" style="font-size:52.0px">Pep-C</text>
<text class="lg" transform="scale(0.94,1)" x="1590.4" y="143.9" style="font-size:36.0px">1</text>
<text class="lg" transform="scale(0.94,1)" x="1609.5" y="131.7" style="font-size:52.0px">V</text>
<line x1="1268" y1="200.4" x2="1303" y2="200.4" stroke="#0000ff" stroke-width="5"/>
<line x1="1339" y1="200.4" x2="1355" y2="200.4" stroke="#0000ff" stroke-width="5"/>
<text class="lg" transform="scale(0.94,1)" x="1449.7 1476.4 1498.0 1530.0 1552.5 1583.0 1601.2" y="212.5" style="font-size:52.0px">rePep-C</text>
<text class="lg" transform="scale(0.94,1)" x="1639.1" y="224.7" style="font-size:36.0px">1</text>
<text class="lg" transform="scale(0.94,1)" x="1657.4" y="212.5" style="font-size:52.0px">V</text>
<line x1="1268" y1="281.3" x2="1355" y2="281.3" stroke="#ff0000" stroke-width="5"/>
<text class="lg" transform="scale(0.94,1)" x="1448.2 1483.3 1502.5 1534.3 1553.2" y="293.4" style="font-size:52.0px">Pep-C</text>
<text class="lg" transform="scale(0.94,1)" x="1589.4" y="305.6" style="font-size:36.0px">3</text>
<text class="lg" transform="scale(0.94,1)" x="1609.5" y="293.4" style="font-size:52.0px">V</text>
<line x1="1268" y1="362.1" x2="1303" y2="362.1" stroke="#ff0000" stroke-width="5"/>
<line x1="1339" y1="362.1" x2="1355" y2="362.1" stroke="#ff0000" stroke-width="5"/>
<text class="lg" transform="scale(0.94,1)" x="1449.7 1476.4 1498.0 1530.0 1552.5 1583.0 1601.2" y="374.2" style="font-size:52.0px">rePep-C</text>
<text class="lg" transform="scale(0.94,1)" x="1639.1" y="386.4" style="font-size:36.0px">3</text>
<text class="lg" transform="scale(0.94,1)" x="1657.4" y="374.2" style="font-size:52.0px">V</text>
<line x1="1268" y1="443.0" x2="1355" y2="443.0" stroke="#007f00" stroke-width="5"/>
<text class="lg" transform="scale(0.94,1)" x="1448.2 1483.3 1502.5 1534.3 1553.2" y="455.1" style="font-size:52.0px">Pep-C</text>
<text class="lg" transform="scale(0.94,1)" x="1590.8" y="467.3" style="font-size:36.0px">5</text>
<text class="lg" transform="scale(0.94,1)" x="1609.5" y="455.1" style="font-size:52.0px">V</text>
<line x1="1268" y1="523.9" x2="1303" y2="523.9" stroke="#007f00" stroke-width="5"/>
<line x1="1339" y1="523.9" x2="1355" y2="523.9" stroke="#007f00" stroke-width="5"/>
<text class="lg" transform="scale(0.94,1)" x="1449.7 1476.4 1498.0 1530.0 1552.5 1583.0 1601.2" y="536.0" style="font-size:52.0px">rePep-C</text>
<text class="lg" transform="scale(0.94,1)" x="1639.0" y="548.2" style="font-size:36.0px">5</text>
<text class="lg" transform="scale(0.94,1)" x="1657.4" y="536.0" style="font-size:52.0px">V</text>
<text class="ti" transform="translate(90,859.3) rotate(-90)" x="-1.37" textLength="746.0" lengthAdjust="spacing">Fluoresence Intensity</text>
<text class="ti" transform="scale(1.0,1)" x="683.9 768.0 808.8 847.9 887.3 910.7 949.6 989.3 1030.1 1055.8 1110.0 1123.2 1150.0 1166.7 1209.5" y="1212.0" style="font-size:80.0px">Wavelength / nm</text>
</svg>
</body></html>
